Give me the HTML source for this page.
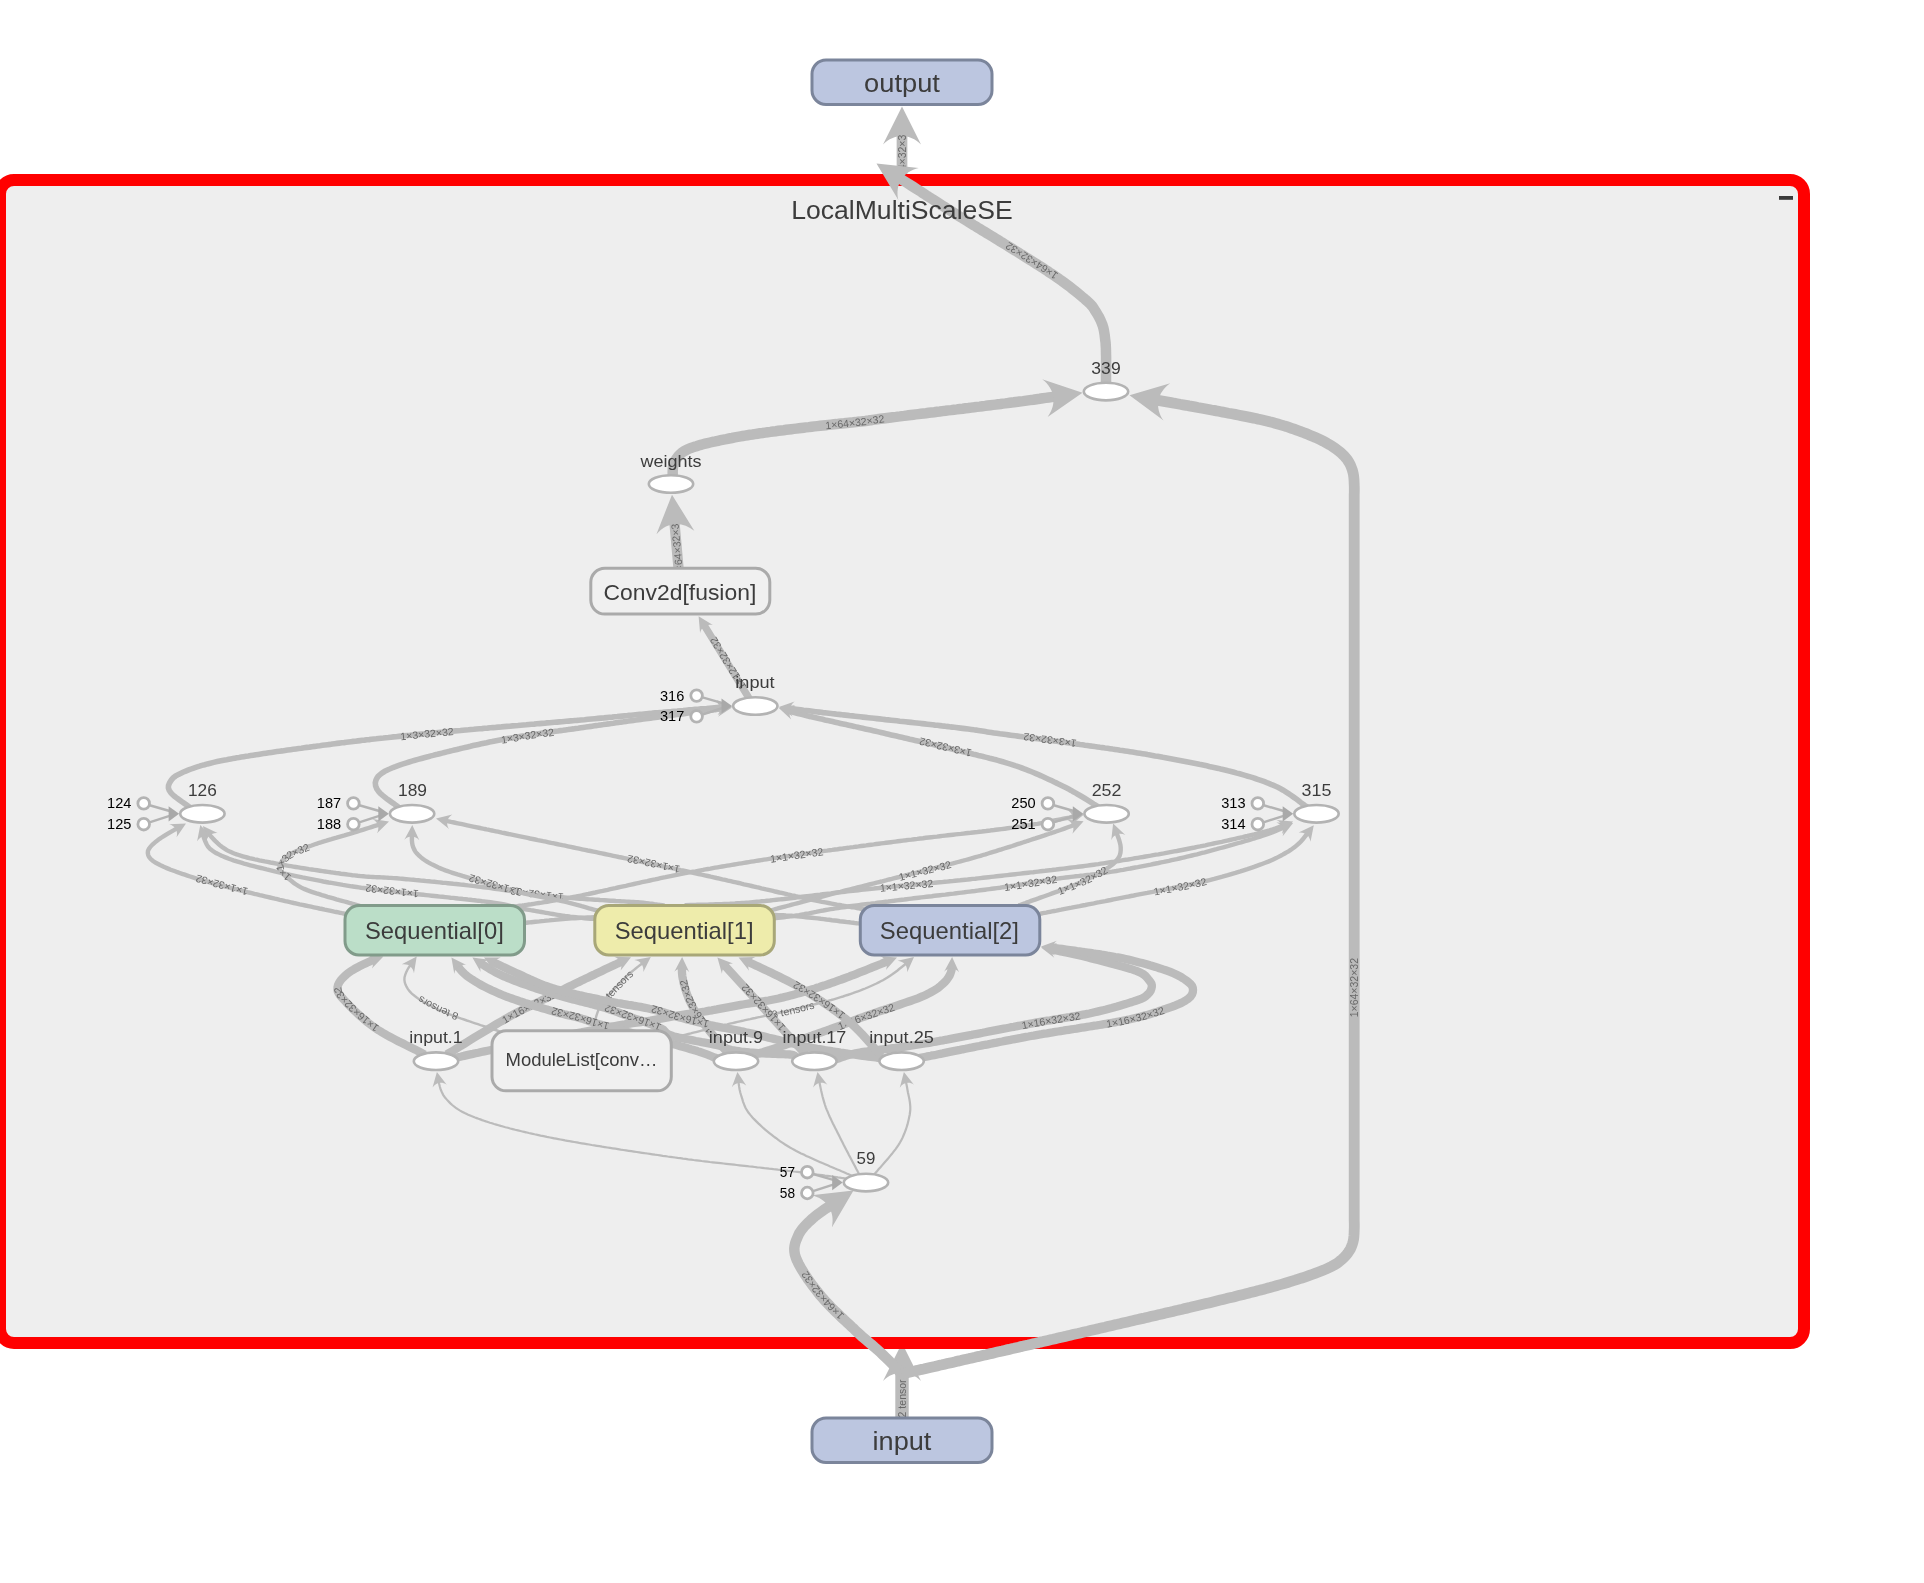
<!DOCTYPE html>
<html><head><meta charset="utf-8"><title>graph</title>
<style>
html,body{margin:0;padding:0;background:#ffffff;}
body{width:1924px;height:1583px;overflow:hidden;}
svg{display:block;font-family:"Liberation Sans", sans-serif;will-change:transform;}
</style></head><body>
<svg width="1924" height="1583" viewBox="0 0 1924 1583">
<rect x="0" y="0" width="1924" height="1583" fill="#ffffff"/>
<g>
<path id="e5" d="M902.0,186.0L902.0,133.9" stroke="#bbbbbb" stroke-width="10.70" fill="none"/>
<path d="M-10,-5 L0,0 L-10,5 C-7,2 -7,-2 -10,-5Z" fill="#bbbbbb" transform="translate(902.0,106.5) rotate(-90.0) scale(3.800)"/>
<text font-size="10.5" fill="#686868" text-anchor="middle" dominant-baseline="central"><textPath href="#e5" startOffset="52.74%">1×64×32×32</textPath></text>
<path id="e7" d="M902.0,1424.0L902.0,1370.4" stroke="#bbbbbb" stroke-width="13.40" fill="none"/>
<path d="M-10,-5 L0,0 L-10,5 C-7,2 -7,-2 -10,-5Z" fill="#bbbbbb" transform="translate(902.0,1343.0) rotate(-90.0) scale(3.800)"/>
<text font-size="10.5" fill="#686868" text-anchor="middle" dominant-baseline="central"><textPath href="#e7" startOffset="47.73%">2 tensor</textPath></text>
</g>
<rect x="0" y="180" width="1804" height="1163" rx="14" ry="14" fill="#eeeeee" stroke="#ff0000" stroke-width="12"/>
<rect x="1779" y="196" width="14" height="3.8" fill="#3a3a3a"/>
<g>
<path id="e1" d="M851.0,1179.2L851.3,1179.2 852.0,1179.3 850.9,1179.2 846.0,1178.5 844.6,1178.3 843.0,1178.1 841.4,1177.9 839.7,1177.6 837.9,1177.4 836.0,1177.1 834.0,1176.8 831.9,1176.5 829.7,1176.2 827.3,1175.9 824.9,1175.6 822.3,1175.2 819.6,1174.8 816.9,1174.5 813.9,1174.1 810.9,1173.7 807.7,1173.2 804.5,1172.8 801.0,1172.4 797.5,1171.9 793.8,1171.5 790.0,1171.0 788.1,1170.8 786.2,1170.5 784.2,1170.3 782.2,1170.1 780.1,1169.8 778.0,1169.6 775.8,1169.3 773.6,1169.1 771.4,1168.8 769.1,1168.6 766.8,1168.3 764.5,1168.1 762.1,1167.8 759.7,1167.5 757.2,1167.3 754.8,1167.0 752.3,1166.7 749.7,1166.5 747.2,1166.2 744.6,1165.9 742.0,1165.6 739.4,1165.3 736.8,1165.0 734.2,1164.7 731.5,1164.4 728.8,1164.1 726.2,1163.8 723.5,1163.5 720.8,1163.2 718.1,1162.9 715.4,1162.6 712.6,1162.3 709.9,1162.0 707.2,1161.6 704.5,1161.3 701.8,1161.0 699.0,1160.6 696.3,1160.3 693.6,1160.0 690.9,1159.6 688.2,1159.3 685.6,1158.9 682.9,1158.6 680.3,1158.2 677.6,1157.9 675.0,1157.5 672.6,1157.2 670.1,1156.8 667.7,1156.5 665.2,1156.1 662.7,1155.8 660.1,1155.4 657.6,1155.0 655.0,1154.7 652.4,1154.3 649.8,1153.9 647.2,1153.5 644.6,1153.2 642.0,1152.8 639.3,1152.4 636.7,1152.0 634.0,1151.6 631.3,1151.2 628.7,1150.8 626.0,1150.4 623.3,1150.0 620.6,1149.6 618.0,1149.1 615.3,1148.7 612.7,1148.3 610.0,1147.9 607.4,1147.5 604.7,1147.1 602.1,1146.7 599.5,1146.2 596.9,1145.8 594.3,1145.4 591.7,1145.0 589.2,1144.5 586.6,1144.1 584.1,1143.7 581.7,1143.3 579.2,1142.9 576.8,1142.4 574.3,1142.0 572.0,1141.6 569.6,1141.2 567.3,1140.8 565.0,1140.4 562.7,1139.9 560.5,1139.5 558.3,1139.1 556.2,1138.7 554.1,1138.3 552.0,1137.9 550.0,1137.5 546.8,1136.9 543.7,1136.2 540.6,1135.6 537.5,1134.9 534.6,1134.3 531.7,1133.6 528.8,1133.0 526.0,1132.3 523.2,1131.7 520.5,1131.0 517.9,1130.4 515.3,1129.8 512.7,1129.1 510.2,1128.5 507.8,1127.8 505.4,1127.2 503.0,1126.5 500.7,1125.9 498.5,1125.2 496.3,1124.6 494.1,1124.0 492.0,1123.3 489.9,1122.7 487.9,1122.0 485.9,1121.4 484.0,1120.7 482.1,1120.1 480.3,1119.4 478.5,1118.8 476.7,1118.1 475.0,1117.5 471.4,1116.1 468.2,1114.7 465.2,1113.3 462.5,1111.9 460.1,1110.6 457.8,1109.2 455.8,1107.8 454.0,1106.5 452.2,1105.0 450.7,1103.6 449.2,1102.1 447.7,1100.6 446.4,1099.1 445.0,1097.5 443.3,1095.1 441.9,1092.3 440.7,1089.5 439.8,1086.5 439.1,1083.5 438.9,1082.3" stroke="#bbbbbb" stroke-width="2.20" fill="none"/>
<path d="M-10,-5 L0,0 L-10,5 C-7,2 -7,-2 -10,-5Z" fill="#bbbbbb" transform="translate(436.9,1072.0) rotate(-101.0) scale(1.450)"/>
<path id="e2" d="M852.5,1176.1L853.0,1176.3 853.9,1176.7 853.0,1176.3 848.0,1174.0 846.6,1173.4 845.1,1172.7 843.4,1172.0 841.5,1171.2 839.5,1170.3 837.3,1169.4 835.1,1168.5 832.7,1167.4 830.2,1166.4 827.7,1165.3 825.1,1164.2 822.4,1163.1 819.7,1161.9 817.0,1160.7 814.3,1159.5 811.6,1158.3 808.9,1157.1 806.3,1155.9 803.7,1154.6 801.1,1153.4 798.7,1152.2 796.3,1151.0 794.1,1149.8 792.0,1148.6 790.0,1147.5 787.5,1146.0 785.1,1144.5 782.7,1142.9 780.3,1141.3 778.0,1139.7 775.8,1138.0 773.6,1136.4 771.4,1134.7 769.4,1133.1 767.3,1131.4 765.4,1129.8 763.5,1128.2 761.7,1126.5 760.0,1124.9 758.3,1123.4 756.8,1121.9 755.3,1120.4 753.8,1118.9 752.5,1117.5 750.3,1114.9 748.4,1112.5 746.9,1110.2 745.6,1108.0 744.6,1105.8 743.8,1103.7 743.0,1101.6 742.4,1099.4 741.7,1097.2 741.0,1095.0 740.2,1092.3 739.6,1089.5 739.1,1086.5 738.7,1083.6 738.6,1082.4" stroke="#bbbbbb" stroke-width="2.20" fill="none"/>
<path d="M-10,-5 L0,0 L-10,5 C-7,2 -7,-2 -10,-5Z" fill="#bbbbbb" transform="translate(737.4,1072.0) rotate(-96.5) scale(1.450)"/>
<path id="e3" d="M861.1,1177.9L861.0,1177.9 861.1,1178.0 860.5,1176.9 858.8,1173.5 858.0,1172.1 857.2,1170.5 856.2,1168.7 855.1,1166.6 854.0,1164.5 852.8,1162.2 851.5,1159.7 850.2,1157.3 848.8,1154.7 847.5,1152.1 846.1,1149.6 844.8,1147.0 843.5,1144.5 842.3,1142.0 841.1,1139.7 840.0,1137.5 838.8,1135.1 837.6,1132.7 836.4,1130.3 835.2,1128.0 834.1,1125.7 832.9,1123.4 831.8,1121.1 830.7,1118.8 829.6,1116.5 828.6,1114.2 827.7,1111.9 826.7,1109.6 825.8,1107.3 825.0,1105.0 824.2,1102.4 823.4,1099.6 822.6,1096.7 821.9,1093.8 821.2,1090.8 820.6,1087.9 820.0,1085.1 819.5,1082.3 819.5,1082.2" stroke="#bbbbbb" stroke-width="2.20" fill="none"/>
<path d="M-10,-5 L0,0 L-10,5 C-7,2 -7,-2 -10,-5Z" fill="#bbbbbb" transform="translate(817.5,1072.0) rotate(-101.0) scale(1.450)"/>
<path id="e4" d="M871.9,1177.4L871.9,1177.3 871.9,1177.4 872.6,1176.5 875.0,1173.5 876.1,1172.2 877.4,1170.7 878.8,1169.0 880.5,1167.2 882.3,1165.1 884.1,1163.0 886.1,1160.8 888.1,1158.5 890.0,1156.1 892.0,1153.8 893.8,1151.4 895.6,1149.1 897.2,1146.8 898.7,1144.6 900.0,1142.5 901.4,1139.9 902.7,1137.4 903.8,1134.8 904.9,1132.1 905.9,1129.5 906.7,1127.0 907.5,1124.4 908.1,1121.9 908.7,1119.4 909.2,1117.1 909.7,1114.7 910.0,1112.5 910.3,1109.6 910.3,1106.9 910.1,1104.3 909.8,1101.7 909.4,1099.3 908.9,1096.9 908.4,1094.6 907.9,1092.3 907.5,1090.0 907.0,1087.0 906.4,1084.0 906.0,1082.2" stroke="#bbbbbb" stroke-width="2.20" fill="none"/>
<path d="M-10,-5 L0,0 L-10,5 C-7,2 -7,-2 -10,-5Z" fill="#bbbbbb" transform="translate(903.9,1072.0) rotate(-101.9) scale(1.450)"/>
<path id="e6" d="M1106.0,387.0L1106.0,386.7 1106.0,386.4 1106.0,385.1 1106.0,382.0 1106.0,380.3 1106.0,378.3 1106.0,375.9 1106.0,373.3 1106.1,370.5 1106.1,367.6 1106.1,364.6 1106.1,361.7 1106.1,359.0 1106.1,356.4 1106.0,354.0 1106.0,352.0 1105.9,348.2 1105.7,345.2 1105.6,342.8 1105.3,340.5 1105.0,338.0 1104.7,335.3 1104.3,332.7 1103.9,330.2 1103.3,327.6 1102.5,325.0 1101.5,322.4 1100.3,319.7 1099.0,317.1 1097.5,314.5 1096.0,312.0 1094.7,309.9 1093.6,308.1 1092.2,306.2 1090.2,304.0 1087.0,301.0 1085.6,299.8 1084.2,298.5 1082.6,297.2 1080.9,295.8 1079.1,294.3 1077.3,292.8 1075.3,291.2 1073.3,289.6 1071.2,287.9 1069.0,286.2 1066.7,284.5 1064.4,282.8 1062.0,281.0 1059.5,279.3 1057.0,277.5 1055.2,276.2 1053.3,274.9 1051.3,273.6 1049.3,272.3 1047.3,270.9 1045.2,269.6 1043.1,268.2 1040.9,266.8 1038.7,265.4 1036.5,264.0 1034.3,262.6 1032.0,261.1 1029.7,259.7 1027.4,258.3 1025.1,256.8 1022.7,255.3 1020.4,253.9 1018.1,252.4 1015.7,250.9 1013.3,249.5 1011.0,248.0 1008.9,246.7 1006.8,245.4 1004.7,244.1 1002.5,242.7 1000.3,241.4 998.1,240.0 995.9,238.7 993.6,237.3 991.4,235.9 989.1,234.6 986.9,233.2 984.6,231.8 982.3,230.4 980.1,229.0 977.8,227.7 975.6,226.3 973.3,225.0 971.1,223.6 969.0,222.3 966.8,220.9 964.7,219.6 962.6,218.3 960.5,217.1 958.5,215.8 956.1,214.3 953.8,212.8 951.4,211.4 949.1,209.9 946.9,208.5 944.6,207.0 942.4,205.6 940.2,204.2 938.0,202.8 935.9,201.4 933.7,200.0 931.6,198.7 929.5,197.3 927.4,196.0 925.3,194.6 923.2,193.3 921.2,191.9 919.1,190.6 917.1,189.3 915.0,188.0 912.7,186.5 910.3,185.0 907.8,183.4 905.4,181.9 902.9,180.3 900.4,178.7 899.6,178.2" stroke="#bbbbbb" stroke-width="10.50" fill="none"/>
<path d="M-10,-5 L0,0 L-10,5 C-7,2 -7,-2 -10,-5Z" fill="#bbbbbb" transform="translate(876.5,163.5) rotate(-147.5) scale(3.800)"/>
<text font-size="10.5" fill="#686868" text-anchor="middle" dominant-baseline="central"><textPath href="#e6" startOffset="50.61%">1×64×32×32</textPath></text>
<path id="e8" d="M902.0,1374.0L900.9,1372.9 899.5,1371.5 897.9,1369.8 896.1,1368.0 894.2,1366.0 892.1,1363.9 889.9,1361.7 887.7,1359.4 885.4,1357.2 883.2,1355.1 881.0,1353.0 879.2,1351.3 877.4,1349.7 875.5,1348.1 873.7,1346.5 871.8,1344.8 869.9,1343.2 867.9,1341.5 865.9,1339.8 863.8,1338.0 861.7,1336.2 859.5,1334.2 857.3,1332.2 855.0,1330.0 853.4,1328.4 851.6,1326.8 849.9,1325.2 848.0,1323.5 846.2,1321.7 844.2,1319.9 842.3,1318.1 840.3,1316.2 838.4,1314.3 836.4,1312.4 834.4,1310.5 832.5,1308.6 830.5,1306.6 828.7,1304.7 826.8,1302.7 825.0,1300.8 823.3,1298.8 821.6,1296.9 820.0,1295.0 818.3,1292.9 816.5,1290.6 814.8,1288.4 813.0,1286.1 811.3,1283.8 809.7,1281.5 808.0,1279.2 806.5,1276.8 804.9,1274.5 803.5,1272.3 802.1,1270.0 800.8,1267.8 799.6,1265.7 798.5,1263.7 797.6,1261.7 796.7,1259.8 796.0,1258.0 794.9,1254.5 794.4,1251.3 794.3,1248.4 794.6,1245.8 795.2,1243.2 796.0,1240.8 797.0,1238.4 798.0,1236.0 799.1,1233.6 800.5,1231.4 802.1,1229.2 803.8,1227.1 805.7,1225.0 807.7,1223.0 809.8,1221.0 812.0,1219.0 813.8,1217.4 815.7,1215.8 817.8,1214.2 819.9,1212.7 822.0,1211.2 824.2,1209.7 826.4,1208.2 828.7,1206.8 830.6,1205.5" stroke="#bbbbbb" stroke-width="10.50" fill="none"/>
<path d="M-10,-5 L0,0 L-10,5 C-7,2 -7,-2 -10,-5Z" fill="#bbbbbb" transform="translate(853.5,1190.6) rotate(-33.0) scale(3.800)"/>
<text font-size="10.5" fill="#686868" text-anchor="middle" dominant-baseline="central"><textPath href="#e8" startOffset="49.56%">1×64×32×32</textPath></text>
<path id="e9" d="M902.0,1374.0L902.3,1373.9 902.3,1373.9 905.1,1373.2 913.5,1371.3 915.0,1371.0 916.5,1370.6 918.2,1370.2 919.9,1369.8 921.8,1369.4 923.8,1369.0 925.8,1368.5 927.9,1368.0 930.1,1367.5 932.4,1367.0 934.7,1366.5 937.1,1365.9 939.5,1365.3 942.1,1364.8 944.6,1364.2 947.2,1363.6 949.9,1363.0 952.6,1362.4 955.3,1361.8 958.0,1361.1 960.8,1360.5 963.6,1359.8 966.4,1359.2 969.3,1358.6 972.1,1357.9 975.0,1357.3 977.8,1356.6 980.6,1356.0 983.5,1355.3 986.3,1354.7 989.1,1354.0 991.9,1353.4 994.6,1352.7 997.3,1352.1 1000.0,1351.5 1002.3,1351.0 1004.6,1350.4 1006.9,1349.9 1009.2,1349.4 1011.6,1348.8 1013.9,1348.3 1016.3,1347.7 1018.7,1347.2 1021.0,1346.6 1023.4,1346.1 1025.9,1345.5 1028.3,1345.0 1030.7,1344.4 1033.1,1343.8 1035.6,1343.3 1038.0,1342.7 1040.5,1342.1 1043.0,1341.6 1045.4,1341.0 1047.9,1340.4 1050.4,1339.8 1052.9,1339.3 1055.4,1338.7 1057.9,1338.1 1060.3,1337.5 1062.8,1336.9 1065.3,1336.4 1067.8,1335.8 1070.3,1335.2 1072.8,1334.6 1075.3,1334.0 1077.8,1333.5 1080.3,1332.9 1082.8,1332.3 1085.2,1331.7 1087.7,1331.2 1090.2,1330.6 1092.6,1330.0 1095.1,1329.4 1097.6,1328.9 1100.0,1328.3 1102.4,1327.7 1104.9,1327.2 1107.4,1326.6 1109.9,1326.0 1112.4,1325.4 1114.9,1324.8 1117.4,1324.3 1120.0,1323.7 1122.5,1323.1 1125.1,1322.5 1127.6,1321.9 1130.2,1321.3 1132.7,1320.7 1135.3,1320.1 1137.9,1319.5 1140.4,1318.9 1143.0,1318.4 1145.5,1317.8 1148.1,1317.2 1150.6,1316.6 1153.1,1316.0 1155.7,1315.4 1158.2,1314.8 1160.7,1314.3 1163.2,1313.7 1165.6,1313.1 1168.1,1312.5 1170.5,1312.0 1172.9,1311.4 1175.3,1310.8 1177.7,1310.3 1180.1,1309.7 1182.4,1309.2 1184.7,1308.6 1187.0,1308.1 1189.2,1307.6 1191.4,1307.0 1193.6,1306.5 1195.8,1306.0 1197.9,1305.5 1200.0,1305.0 1203.0,1304.3 1206.0,1303.6 1208.9,1302.9 1211.8,1302.2 1214.7,1301.5 1217.5,1300.8 1220.3,1300.1 1223.0,1299.4 1225.7,1298.8 1228.4,1298.1 1231.0,1297.5 1233.6,1296.9 1236.1,1296.2 1238.6,1295.6 1241.1,1295.0 1243.5,1294.4 1245.9,1293.8 1248.3,1293.2 1250.6,1292.6 1252.9,1292.0 1255.2,1291.4 1257.4,1290.8 1259.6,1290.3 1261.7,1289.7 1263.8,1289.2 1265.9,1288.6 1268.0,1288.0 1270.0,1287.5 1273.2,1286.6 1276.3,1285.7 1279.3,1284.9 1282.2,1284.1 1285.0,1283.3 1287.7,1282.5 1290.2,1281.7 1292.7,1280.9 1295.1,1280.2 1297.5,1279.4 1299.7,1278.7 1301.9,1278.0 1304.0,1277.3 1306.1,1276.6 1308.1,1275.9 1310.1,1275.2 1312.0,1274.5 1315.1,1273.4 1318.0,1272.3 1320.6,1271.3 1323.1,1270.3 1325.3,1269.4 1327.5,1268.4 1329.5,1267.5 1331.4,1266.5 1333.2,1265.5 1335.0,1264.5 1337.8,1262.7 1340.2,1260.9 1342.3,1259.1 1344.2,1257.2 1345.9,1255.4 1347.5,1253.5 1349.1,1251.2 1350.4,1249.0 1351.4,1246.7 1352.3,1244.3 1353.0,1242.0 1353.6,1239.1 1353.9,1236.2 1354.1,1233.2 1354.2,1230.0 1354.3,1227.8 1354.3,1225.6 1354.3,1223.3 1354.2,1220.9 1354.2,1218.1 1354.2,1215.0 1354.2,1213.0 1354.2,1210.9 1354.2,1208.7 1354.2,1206.4 1354.2,1204.1 1354.2,1201.6 1354.2,1198.9 1354.2,1196.1 1354.2,1193.2 1354.2,1190.0 1354.2,1188.9 1354.2,1189.5 1354.2,1191.3 1354.2,1193.9 1354.2,1197.1 1354.2,1200.3 1354.2,1203.1 1354.2,1205.3 1354.2,1206.4 1354.2,1205.9 1354.2,1203.6 1354.2,1199.0 1354.2,1191.8 1354.2,1181.4 1354.2,1167.6 1354.2,1150.0 1354.2,1148.7 1354.2,1147.3 1354.2,1145.9 1354.2,1144.4 1354.2,1143.0 1354.2,1141.5 1354.2,1139.9 1354.2,1138.4 1354.2,1136.8 1354.2,1135.2 1354.2,1133.6 1354.2,1131.9 1354.2,1130.2 1354.2,1128.5 1354.2,1126.8 1354.2,1125.0 1354.2,1123.2 1354.2,1121.4 1354.2,1119.6 1354.2,1117.7 1354.2,1115.8 1354.2,1113.9 1354.2,1112.0 1354.2,1110.0 1354.2,1108.0 1354.2,1106.0 1354.2,1104.0 1354.2,1101.9 1354.2,1099.9 1354.2,1097.8 1354.2,1095.6 1354.2,1093.5 1354.2,1091.3 1354.2,1089.1 1354.2,1086.9 1354.2,1084.7 1354.2,1082.5 1354.2,1080.2 1354.2,1077.9 1354.2,1075.6 1354.2,1073.3 1354.2,1070.9 1354.2,1068.5 1354.2,1066.2 1354.2,1063.8 1354.2,1061.3 1354.2,1058.9 1354.2,1056.4 1354.2,1054.0 1354.2,1051.5 1354.2,1049.0 1354.2,1046.4 1354.2,1043.9 1354.2,1041.3 1354.2,1038.7 1354.2,1036.2 1354.2,1033.5 1354.2,1030.9 1354.2,1028.3 1354.2,1025.6 1354.2,1023.0 1354.2,1020.3 1354.2,1017.6 1354.2,1014.9 1354.2,1012.1 1354.2,1009.4 1354.2,1006.7 1354.2,1003.9 1354.2,1001.1 1354.2,998.3 1354.2,995.5 1354.2,992.7 1354.2,989.9 1354.2,987.1 1354.2,984.2 1354.2,981.4 1354.2,978.5 1354.2,975.6 1354.2,972.7 1354.2,969.8 1354.2,966.9 1354.2,964.0 1354.2,961.1 1354.2,958.2 1354.2,955.2 1354.2,952.3 1354.2,949.3 1354.2,946.3 1354.2,943.4 1354.2,940.4 1354.2,937.4 1354.2,934.4 1354.2,931.4 1354.2,928.4 1354.2,925.4 1354.2,922.4 1354.2,919.3 1354.2,916.3 1354.2,913.3 1354.2,910.2 1354.2,907.2 1354.2,904.2 1354.2,901.1 1354.2,898.0 1354.2,895.0 1354.2,891.9 1354.2,888.9 1354.2,885.8 1354.2,882.7 1354.2,879.6 1354.2,876.6 1354.2,873.5 1354.2,870.4 1354.2,867.3 1354.2,864.2 1354.2,861.2 1354.2,858.1 1354.2,855.0 1354.2,851.9 1354.2,848.8 1354.2,845.8 1354.2,842.7 1354.2,839.6 1354.2,836.5 1354.2,833.4 1354.2,830.4 1354.2,827.3 1354.2,824.2 1354.2,821.1 1354.2,818.1 1354.2,815.0 1354.2,812.0 1354.2,808.9 1354.2,805.8 1354.2,802.8 1354.2,799.8 1354.2,796.7 1354.2,793.7 1354.2,790.7 1354.2,787.6 1354.2,784.6 1354.2,781.6 1354.2,778.6 1354.2,775.6 1354.2,772.6 1354.2,769.6 1354.2,766.6 1354.2,763.7 1354.2,760.7 1354.2,757.7 1354.2,754.8 1354.2,751.8 1354.2,748.9 1354.2,746.0 1354.2,743.1 1354.2,740.2 1354.2,737.3 1354.2,734.4 1354.2,731.5 1354.2,728.6 1354.2,725.8 1354.2,722.9 1354.2,720.1 1354.2,717.3 1354.2,714.5 1354.2,711.7 1354.2,708.9 1354.2,706.1 1354.2,703.3 1354.2,700.6 1354.2,697.9 1354.2,695.1 1354.2,692.4 1354.2,689.7 1354.2,687.0 1354.2,684.4 1354.2,681.7 1354.2,679.1 1354.2,676.5 1354.2,673.8 1354.2,671.3 1354.2,668.7 1354.2,666.1 1354.2,663.6 1354.2,661.0 1354.2,658.5 1354.2,656.0 1354.2,653.6 1354.2,651.1 1354.2,648.7 1354.2,646.2 1354.2,643.8 1354.2,641.5 1354.2,639.1 1354.2,636.7 1354.2,634.4 1354.2,632.1 1354.2,629.8 1354.2,627.5 1354.2,625.3 1354.2,623.1 1354.2,620.9 1354.2,618.7 1354.2,616.5 1354.2,614.4 1354.2,612.2 1354.2,610.1 1354.2,608.1 1354.2,606.0 1354.2,604.0 1354.2,602.0 1354.2,600.0 1354.2,598.0 1354.2,596.1 1354.2,594.2 1354.2,592.3 1354.2,590.4 1354.2,588.6 1354.2,586.8 1354.2,585.0 1354.2,583.2 1354.2,581.5 1354.2,579.8 1354.2,578.1 1354.2,576.4 1354.2,574.8 1354.2,573.2 1354.2,571.6 1354.2,570.1 1354.2,568.5 1354.2,567.0 1354.2,565.6 1354.2,564.1 1354.2,562.7 1354.2,561.3 1354.2,560.0 1354.2,542.4 1354.2,528.5 1354.2,518.2 1354.2,510.9 1354.2,506.2 1354.2,503.8 1354.2,503.4 1354.2,504.4 1354.2,506.5 1354.2,509.4 1354.2,512.6 1354.2,515.7 1354.2,518.4 1354.2,520.3 1354.2,520.9 1354.2,520.0 1354.2,516.5 1354.2,513.5 1354.2,510.8 1354.2,508.4 1354.2,506.3 1354.2,504.2 1354.2,502.1 1354.2,500.0 1354.2,497.2 1354.2,494.5 1354.3,492.0 1354.3,489.6 1354.3,487.3 1354.2,485.0 1354.1,482.3 1354.0,479.8 1353.8,477.4 1353.5,475.0 1353.0,472.5 1352.3,470.0 1351.4,467.5 1350.4,464.9 1349.1,462.5 1347.5,460.0 1345.9,458.0 1344.2,456.0 1342.3,454.1 1340.2,452.1 1337.7,450.2 1335.0,448.2 1333.2,447.0 1331.4,445.8 1329.5,444.6 1327.4,443.5 1325.3,442.3 1323.1,441.1 1320.7,439.9 1318.1,438.7 1315.4,437.4 1312.5,436.2 1310.5,435.4 1308.3,434.5 1306.2,433.6 1303.9,432.7 1301.6,431.9 1299.2,431.0 1296.7,430.1 1294.2,429.2 1291.6,428.3 1289.0,427.4 1286.3,426.5 1283.5,425.7 1280.7,424.8 1277.9,424.0 1275.0,423.2 1272.8,422.6 1270.7,422.1 1268.6,421.5 1266.5,421.0 1264.4,420.5 1262.4,420.0 1260.2,419.5 1258.1,419.1 1255.9,418.6 1253.6,418.1 1251.3,417.6 1248.9,417.1 1246.4,416.6 1243.7,416.1 1241.0,415.6 1238.1,415.0 1235.1,414.4 1231.9,413.8 1228.5,413.2 1225.0,412.5 1223.0,412.1 1220.9,411.7 1218.7,411.3 1216.4,410.9 1214.0,410.4 1211.5,410.0 1208.9,409.5 1206.2,409.0 1203.5,408.5 1200.7,408.0 1197.8,407.5 1194.9,406.9 1192.0,406.4 1189.1,405.9 1186.1,405.3 1183.1,404.8 1180.1,404.3 1177.1,403.7 1174.1,403.2 1171.2,402.6 1168.2,402.1 1165.3,401.6 1162.4,401.1 1159.6,400.6 1156.9,400.1 1156.4,400.0" stroke="#bbbbbb" stroke-width="10.80" fill="none"/>
<path d="M-10,-5 L0,0 L-10,5 C-7,2 -7,-2 -10,-5Z" fill="#bbbbbb" transform="translate(1129.5,395.2) rotate(-169.9) scale(3.800)"/>
<text font-size="10.5" fill="#686868" text-anchor="middle" dominant-baseline="central"><textPath href="#e9" startOffset="49.96%">1×64×32×32</textPath></text>
<path id="e10" d="M671.7,480.9L671.8,480.3 671.9,479.4 672.2,478.1 672.5,476.0 672.7,474.1 672.7,471.7 672.8,469.0 673.1,466.2 673.8,463.5 675.0,461.0 676.1,459.3 677.3,457.6 678.5,455.9 680.1,454.3 681.9,452.7 684.3,451.1 687.3,449.5 691.0,448.0 692.7,447.4 694.5,446.8 696.5,446.2 698.5,445.5 700.7,444.9 702.9,444.3 705.2,443.7 707.7,443.1 710.2,442.5 712.7,441.9 715.3,441.4 718.0,440.8 720.7,440.2 723.5,439.6 726.3,439.1 729.1,438.5 732.0,438.0 734.8,437.4 737.7,436.9 740.6,436.4 742.8,436.0 745.1,435.6 747.5,435.2 749.9,434.8 752.4,434.5 754.8,434.1 757.4,433.7 759.9,433.3 762.5,433.0 765.1,432.6 767.7,432.2 770.4,431.9 773.0,431.5 775.7,431.2 778.3,430.8 781.0,430.5 783.6,430.2 786.2,429.8 788.8,429.5 791.4,429.2 793.9,428.9 796.4,428.6 798.9,428.3 801.3,428.0 803.7,427.7 806.0,427.4 808.8,427.1 811.7,426.7 814.5,426.4 817.3,426.1 820.1,425.8 822.9,425.5 825.7,425.2 828.4,424.9 831.1,424.6 833.8,424.3 836.5,424.1 839.1,423.8 841.6,423.5 844.1,423.3 846.6,423.0 849.0,422.8 851.3,422.6 853.6,422.3 855.8,422.1 857.9,421.8 860.0,421.6 863.1,421.2 865.4,421.0 867.2,420.7 868.6,420.5 869.8,420.3 871.1,420.2 872.6,419.9 874.6,419.6 877.2,419.3 880.7,418.8 885.2,418.2 891.0,417.5 892.6,417.3 894.3,417.1 896.1,416.9 898.0,416.6 899.9,416.4 902.0,416.1 904.1,415.9 906.3,415.6 908.6,415.3 910.9,415.0 913.3,414.7 915.7,414.4 918.2,414.1 920.8,413.8 923.4,413.5 926.0,413.2 928.7,412.8 931.4,412.5 934.2,412.2 937.0,411.8 939.8,411.5 942.6,411.1 945.4,410.8 948.3,410.4 951.2,410.1 954.0,409.7 956.9,409.4 959.8,409.0 962.7,408.7 965.6,408.3 968.4,408.0 971.3,407.6 974.1,407.3 976.9,406.9 979.7,406.6 982.4,406.2 985.1,405.9 987.8,405.5 990.5,405.2 993.1,404.9 995.6,404.6 998.1,404.3 1000.5,404.0 1002.9,403.6 1005.3,403.4 1007.5,403.1 1009.7,402.8 1011.8,402.5 1013.8,402.3 1015.8,402.0 1019.4,401.5 1023.0,401.1 1026.5,400.6 1029.9,400.1 1033.3,399.7 1036.5,399.2 1039.7,398.8 1042.8,398.3 1045.8,397.9 1048.7,397.5 1051.6,397.1 1054.3,396.7 1055.4,396.6" stroke="#bbbbbb" stroke-width="10.50" fill="none"/>
<path d="M-10,-5 L0,0 L-10,5 C-7,2 -7,-2 -10,-5Z" fill="#bbbbbb" transform="translate(1082.5,392.7) rotate(-8.2) scale(3.800)"/>
<text font-size="10.5" fill="#686868" text-anchor="middle" dominant-baseline="central"><textPath href="#e10" startOffset="50.66%">1×64×32×32</textPath></text>
<path id="e11" d="M678.9,573.0L678.5,568.0 674.4,522.0" stroke="#bbbbbb" stroke-width="10.30" fill="none"/>
<path d="M-10,-5 L0,0 L-10,5 C-7,2 -7,-2 -10,-5Z" fill="#bbbbbb" transform="translate(672.0,494.7) rotate(-95.1) scale(3.800)"/>
<text font-size="10.5" fill="#686868" text-anchor="middle" dominant-baseline="central"><textPath href="#e11" startOffset="50%">1×64×32×32</textPath></text>
<path id="e12" d="M751.1,701.6L748.5,697.3 704.3,625.4" stroke="#bbbbbb" stroke-width="7.30" fill="none"/>
<path d="M-10,-5 L0,0 L-10,5 C-7,2 -7,-2 -10,-5Z" fill="#bbbbbb" transform="translate(698.6,616.2) rotate(-121.6) scale(1.500)"/>
<text font-size="10.5" fill="#686868" text-anchor="middle" dominant-baseline="central"><textPath href="#e12" startOffset="50%">1×12×32×32</textPath></text>
<path id="e13" d="M192.0,809.0L191.6,808.7 191.0,808.3 190.0,807.5 188.0,806.0 186.4,804.8 184.3,803.4 181.9,801.7 179.3,799.9 176.8,798.1 174.5,796.3 172.5,794.5 171.0,793.0 169.2,790.3 168.4,787.8 168.5,785.5 169.5,783.0 170.5,781.3 171.7,779.6 173.2,777.9 175.4,776.2 178.5,774.4 182.5,772.5 184.1,771.8 185.8,771.1 187.5,770.4 189.3,769.7 191.1,769.0 193.0,768.3 195.0,767.6 197.2,766.9 199.5,766.2 201.9,765.4 204.6,764.7 207.4,763.9 210.4,763.2 213.7,762.4 217.2,761.6 221.0,760.8 225.0,760.0 226.8,759.7 228.7,759.3 230.7,758.9 232.7,758.6 234.7,758.2 236.9,757.8 239.1,757.5 241.3,757.1 243.6,756.7 246.0,756.3 248.3,756.0 250.8,755.6 253.2,755.2 255.7,754.8 258.3,754.4 260.9,754.0 263.5,753.6 266.1,753.2 268.7,752.8 271.4,752.4 274.1,752.0 276.8,751.6 279.5,751.2 282.2,750.9 285.0,750.5 287.7,750.1 290.5,749.7 293.2,749.3 295.9,748.9 298.7,748.5 301.4,748.2 304.1,747.8 306.8,747.4 309.5,747.1 312.1,746.7 314.7,746.4 317.4,746.0 319.9,745.7 322.5,745.3 325.0,745.0 327.5,744.7 329.9,744.4 332.4,744.0 334.7,743.7 337.1,743.4 339.5,743.1 341.8,742.8 344.1,742.6 346.4,742.3 348.7,742.0 351.0,741.7 353.2,741.4 355.5,741.2 357.8,740.9 360.1,740.6 362.3,740.3 364.6,740.1 366.9,739.8 369.2,739.6 371.5,739.3 373.9,739.0 376.2,738.8 378.6,738.5 381.0,738.2 383.4,738.0 385.9,737.7 388.4,737.5 390.9,737.2 393.5,736.9 396.1,736.7 398.7,736.4 401.4,736.1 404.2,735.8 407.0,735.5 409.8,735.3 412.7,735.0 415.7,734.7 418.7,734.4 421.8,734.1 425.0,733.8 427.1,733.5 429.2,733.3 431.4,733.1 433.6,732.9 435.9,732.7 438.2,732.5 440.5,732.3 442.9,732.1 445.3,731.8 447.8,731.6 450.3,731.4 452.8,731.2 455.3,730.9 457.9,730.7 460.5,730.5 463.1,730.2 465.8,730.0 468.4,729.8 471.1,729.5 473.8,729.3 476.5,729.0 479.3,728.8 482.0,728.6 484.7,728.3 487.5,728.1 490.3,727.8 493.1,727.6 495.8,727.4 498.6,727.1 501.4,726.9 504.2,726.6 506.9,726.4 509.7,726.2 512.5,725.9 515.2,725.7 518.0,725.5 520.7,725.2 523.5,725.0 526.2,724.8 528.9,724.5 531.5,724.3 534.2,724.1 536.8,723.8 539.5,723.6 542.0,723.4 544.6,723.2 547.1,722.9 549.7,722.7 552.1,722.5 554.6,722.3 557.0,722.1 559.4,721.9 561.7,721.7 564.0,721.5 566.2,721.3 568.5,721.1 570.6,720.9 572.8,720.7 574.8,720.5 576.9,720.4 578.8,720.2 580.8,720.0 584.5,719.7 588.0,719.3 591.5,719.0 594.8,718.7 598.0,718.4 601.0,718.1 604.0,717.9 606.8,717.6 609.6,717.3 612.2,717.1 614.8,716.8 617.3,716.6 619.8,716.3 622.1,716.1 624.5,715.9 626.7,715.7 629.0,715.4 631.2,715.2 633.4,715.0 635.5,714.8 637.7,714.6 639.8,714.4 642.0,714.2 644.1,714.0 646.3,713.8 648.5,713.6 650.7,713.4 652.9,713.1 655.2,712.9 657.6,712.7 660.0,712.5 662.7,712.3 665.5,712.0 668.4,711.7 671.3,711.5 674.2,711.2 677.2,711.0 680.2,710.7 683.2,710.5 686.2,710.2 689.2,709.9 692.2,709.7 695.1,709.4 698.1,709.2 701.0,708.9 703.8,708.7 706.6,708.5 709.3,708.2 711.9,708.0 714.4,707.8 716.9,707.6 719.2,707.4 721.2,707.2" stroke="#bbbbbb" stroke-width="5.60" fill="none"/>
<path d="M-10,-5 L0,0 L-10,5 C-7,2 -7,-2 -10,-5Z" fill="#bbbbbb" transform="translate(732.0,706.3) rotate(-4.8) scale(1.500)"/>
<text font-size="10.5" fill="#686868" text-anchor="middle" dominant-baseline="central"><textPath href="#e13" startOffset="50.59%">1×3×32×32</textPath></text>
<path id="e14" d="M400.9,809.1L400.6,808.8 400.1,808.4 399.1,807.6 397.0,806.0 395.5,804.9 393.7,803.6 391.5,802.1 389.1,800.4 386.7,798.7 384.4,796.9 382.3,795.2 380.4,793.5 379.0,792.0 376.8,788.8 375.6,785.8 375.3,782.8 376.0,780.0 376.9,778.2 378.1,776.4 379.8,774.8 382.0,773.1 384.8,771.3 388.5,769.5 390.2,768.8 391.9,768.0 393.6,767.3 395.5,766.6 397.5,765.8 399.5,765.1 401.7,764.3 404.0,763.6 406.5,762.8 409.1,762.0 411.9,761.1 414.9,760.3 418.0,759.4 421.4,758.5 425.0,757.5 426.9,757.0 428.9,756.5 430.9,755.9 433.0,755.4 435.2,754.8 437.4,754.3 439.7,753.7 442.1,753.1 444.5,752.5 446.9,751.9 449.4,751.3 452.0,750.6 454.5,750.0 457.1,749.4 459.7,748.8 462.4,748.1 465.1,747.5 467.7,746.9 470.4,746.3 473.1,745.6 475.9,745.0 478.6,744.4 481.3,743.8 484.0,743.2 486.7,742.7 489.4,742.1 492.1,741.6 494.8,741.0 497.4,740.5 500.0,740.0 502.4,739.5 504.9,739.1 507.4,738.6 509.8,738.2 512.3,737.8 514.8,737.4 517.3,737.0 519.8,736.5 522.3,736.1 524.9,735.8 527.4,735.4 529.9,735.0 532.5,734.6 535.0,734.2 537.6,733.9 540.1,733.5 542.7,733.1 545.2,732.8 547.8,732.4 550.3,732.1 552.9,731.7 555.4,731.3 558.0,731.0 560.5,730.6 563.1,730.3 565.6,729.9 568.2,729.6 570.7,729.2 573.2,728.9 575.7,728.5 578.2,728.2 580.8,727.8 583.3,727.4 585.8,727.1 588.3,726.7 590.8,726.4 593.3,726.0 595.8,725.6 598.3,725.3 600.8,724.9 603.4,724.6 605.9,724.2 608.4,723.9 610.9,723.5 613.4,723.2 615.9,722.8 618.4,722.5 620.9,722.1 623.4,721.8 625.9,721.4 628.4,721.1 630.9,720.7 633.4,720.4 635.8,720.1 638.3,719.7 640.7,719.4 643.2,719.1 645.6,718.7 648.0,718.4 650.5,718.1 652.9,717.8 655.2,717.4 657.6,717.1 660.0,716.8 662.6,716.4 665.3,716.1 668.1,715.7 670.9,715.4 673.7,715.0 676.6,714.6 679.5,714.2 682.4,713.9 685.3,713.5 688.2,713.1 691.1,712.7 693.9,712.4 696.8,712.0 699.6,711.6 702.3,711.3 705.0,710.9 707.7,710.6 710.3,710.3 712.8,710.0 715.2,709.6 717.5,709.3 719.8,709.1 721.3,708.9" stroke="#bbbbbb" stroke-width="5.60" fill="none"/>
<path d="M-10,-5 L0,0 L-10,5 C-7,2 -7,-2 -10,-5Z" fill="#bbbbbb" transform="translate(732.0,707.5) rotate(-7.3) scale(1.500)"/>
<text font-size="10.5" fill="#686868" text-anchor="middle" dominant-baseline="central"><textPath href="#e14" startOffset="50.65%">1×3×32×32</textPath></text>
<path id="e15" d="M1100.2,808.1L1099.8,807.8 1099.1,807.4 1098.0,806.7 1096.0,805.5 1094.3,804.5 1092.3,803.2 1090.0,801.7 1087.6,800.1 1085.0,798.5 1082.5,797.0 1080.0,795.5 1077.7,794.2 1075.5,792.9 1073.3,791.7 1071.1,790.4 1068.6,789.1 1065.7,787.6 1062.5,786.0 1060.5,785.0 1058.4,784.0 1056.2,782.9 1053.8,781.8 1051.4,780.6 1048.9,779.4 1046.3,778.2 1043.7,777.0 1041.1,775.8 1038.5,774.7 1036.0,773.6 1033.4,772.5 1031.0,771.5 1028.6,770.6 1026.3,769.7 1024.1,768.8 1021.9,768.0 1019.6,767.2 1017.4,766.4 1015.1,765.7 1012.8,764.9 1010.5,764.1 1008.0,763.4 1005.5,762.6 1002.8,761.8 1000.0,761.0 997.9,760.4 995.9,759.8 993.8,759.3 991.7,758.7 989.6,758.2 987.4,757.6 985.3,757.1 983.0,756.5 980.8,755.9 978.4,755.4 976.0,754.8 973.4,754.2 970.8,753.5 968.1,752.9 965.3,752.2 962.3,751.5 959.2,750.8 956.0,750.0 954.0,749.5 951.9,749.0 949.8,748.5 947.6,748.0 945.3,747.5 943.0,746.9 940.6,746.4 938.2,745.8 935.8,745.2 933.3,744.6 930.8,744.0 928.2,743.4 925.7,742.8 923.1,742.2 920.4,741.6 917.8,741.0 915.1,740.4 912.5,739.8 909.8,739.2 907.1,738.5 904.5,737.9 901.8,737.3 899.1,736.7 896.5,736.1 893.9,735.5 891.2,734.9 888.6,734.3 886.1,733.7 883.5,733.1 881.0,732.5 878.5,731.9 875.9,731.3 873.3,730.7 870.6,730.1 867.9,729.5 865.2,728.9 862.5,728.3 859.8,727.7 857.0,727.1 854.2,726.4 851.5,725.8 848.7,725.2 846.0,724.6 843.2,724.0 840.5,723.4 837.8,722.8 835.2,722.2 832.6,721.6 830.0,721.0 827.5,720.4 825.0,719.9 822.6,719.3 820.2,718.8 817.9,718.3 815.7,717.8 813.6,717.3 811.6,716.8 809.6,716.4 807.8,715.9 806.0,715.5 801.6,714.4 797.8,713.5 794.4,712.6 791.4,711.8 789.1,711.1" stroke="#bbbbbb" stroke-width="5.60" fill="none"/>
<path d="M-10,-5 L0,0 L-10,5 C-7,2 -7,-2 -10,-5Z" fill="#bbbbbb" transform="translate(778.8,708.1) rotate(-164.1) scale(1.500)"/>
<text font-size="10.5" fill="#686868" text-anchor="middle" dominant-baseline="central"><textPath href="#e15" startOffset="51.07%">1×3×32×32</textPath></text>
<path id="e16" d="M1309.2,808.2L1309.0,808.1 1309.0,808.1 1308.0,807.4 1305.0,805.5 1303.7,804.6 1302.2,803.6 1300.6,802.4 1298.9,801.0 1297.0,799.6 1295.0,798.1 1292.9,796.6 1290.6,795.0 1288.2,793.4 1285.8,791.8 1283.2,790.2 1280.6,788.7 1277.8,787.3 1275.0,786.0 1273.0,785.1 1270.9,784.3 1268.8,783.4 1266.7,782.6 1264.5,781.7 1262.3,780.9 1260.0,780.1 1257.6,779.3 1255.3,778.5 1252.8,777.7 1250.3,776.9 1247.8,776.2 1245.1,775.4 1242.5,774.6 1239.7,773.8 1236.9,773.1 1234.0,772.3 1231.1,771.5 1228.1,770.8 1225.0,770.0 1222.9,769.5 1220.7,769.0 1218.5,768.4 1216.3,767.9 1213.9,767.4 1211.6,766.9 1209.2,766.4 1206.8,765.8 1204.3,765.3 1201.9,764.8 1199.3,764.3 1196.8,763.7 1194.2,763.2 1191.7,762.7 1189.1,762.2 1186.5,761.7 1183.8,761.2 1181.2,760.7 1178.6,760.2 1175.9,759.7 1173.3,759.2 1170.7,758.7 1168.0,758.2 1165.4,757.7 1162.8,757.3 1160.2,756.8 1157.6,756.3 1155.1,755.9 1152.5,755.4 1150.0,755.0 1147.5,754.6 1145.0,754.1 1142.5,753.7 1140.0,753.3 1137.5,752.9 1135.0,752.5 1132.5,752.1 1130.0,751.7 1127.5,751.3 1125.0,750.9 1122.5,750.5 1120.0,750.2 1117.5,749.8 1115.0,749.4 1112.5,749.1 1110.0,748.7 1107.5,748.3 1105.0,748.0 1102.5,747.6 1100.0,747.3 1097.5,746.9 1095.0,746.6 1092.5,746.2 1090.0,745.9 1087.5,745.5 1085.0,745.2 1082.5,744.8 1080.0,744.5 1077.5,744.1 1075.0,743.8 1072.5,743.4 1069.9,743.0 1067.4,742.7 1064.8,742.3 1062.1,742.0 1059.5,741.6 1056.9,741.3 1054.2,740.9 1051.5,740.5 1048.9,740.2 1046.2,739.8 1043.5,739.5 1040.9,739.1 1038.2,738.8 1035.6,738.4 1032.9,738.1 1030.3,737.8 1027.8,737.4 1025.2,737.1 1022.7,736.8 1020.2,736.4 1017.8,736.1 1015.4,735.8 1013.0,735.5 1010.7,735.2 1008.4,734.9 1006.2,734.6 1004.1,734.3 1002.0,734.0 1000.0,733.8 996.7,733.3 993.9,732.9 991.4,732.5 989.2,732.2 987.3,731.9 985.4,731.6 983.7,731.3 982.0,731.0 980.2,730.7 978.3,730.4 976.3,730.1 973.9,729.8 971.3,729.4 968.2,729.0 964.7,728.6 960.6,728.1 956.0,727.5 954.3,727.3 952.4,727.1 950.5,726.9 948.5,726.6 946.5,726.4 944.3,726.1 942.1,725.9 939.8,725.6 937.4,725.3 935.0,725.1 932.5,724.8 930.0,724.5 927.4,724.2 924.8,723.9 922.2,723.6 919.5,723.3 916.7,723.0 914.0,722.7 911.2,722.4 908.3,722.1 905.5,721.8 902.6,721.5 899.8,721.2 896.9,720.8 894.0,720.5 891.1,720.2 888.2,719.9 885.4,719.6 882.5,719.2 879.6,718.9 876.8,718.6 874.0,718.3 871.2,718.0 868.4,717.7 865.7,717.4 863.0,717.1 860.3,716.8 857.7,716.5 855.2,716.2 852.6,715.9 850.2,715.7 847.8,715.4 845.4,715.1 843.1,714.9 840.9,714.6 838.8,714.4 836.7,714.2 834.7,713.9 832.8,713.7 831.0,713.5 826.9,713.0 823.0,712.6 819.3,712.1 815.7,711.7 812.4,711.3 809.3,710.9 806.3,710.5 803.5,710.2 800.8,709.8 798.3,709.5 795.9,709.2 793.7,708.9 791.6,708.7 789.6,708.4 789.5,708.4" stroke="#bbbbbb" stroke-width="5.60" fill="none"/>
<path d="M-10,-5 L0,0 L-10,5 C-7,2 -7,-2 -10,-5Z" fill="#bbbbbb" transform="translate(778.8,707.0) rotate(-172.5) scale(1.500)"/>
<text font-size="10.5" fill="#686868" text-anchor="middle" dominant-baseline="central"><textPath href="#e16" startOffset="50.81%">1×3×32×32</textPath></text>
<path id="e17" d="M349.9,914.8L350.4,915.0 351.5,915.2 350.6,915.0 345.0,913.8 343.6,913.5 342.0,913.2 340.2,912.8 338.4,912.4 336.4,912.0 334.2,911.6 332.0,911.1 329.7,910.6 327.2,910.1 324.7,909.6 322.1,909.0 319.4,908.5 316.7,907.9 313.9,907.3 311.1,906.7 308.3,906.1 305.4,905.5 302.5,904.9 299.6,904.3 296.7,903.6 293.8,903.0 290.9,902.3 288.0,901.7 285.2,901.1 282.4,900.4 279.7,899.8 277.3,899.2 274.9,898.7 272.5,898.1 270.0,897.5 267.4,896.9 264.9,896.3 262.3,895.7 259.7,895.1 257.0,894.4 254.4,893.8 251.7,893.1 249.0,892.5 246.4,891.8 243.7,891.2 241.0,890.5 238.4,889.9 235.7,889.2 233.1,888.5 230.5,887.9 228.0,887.2 225.4,886.6 223.0,885.9 220.5,885.3 218.1,884.7 215.7,884.0 213.4,883.4 211.2,882.8 209.0,882.2 206.9,881.6 204.9,881.0 201.8,880.1 198.8,879.2 195.8,878.3 192.9,877.4 190.1,876.5 187.4,875.6 184.8,874.7 182.2,873.9 179.7,873.0 177.4,872.2 175.1,871.3 172.9,870.5 170.7,869.7 168.7,868.9 166.8,868.1 164.9,867.3 163.2,866.5 161.6,865.7 160.0,865.0 155.8,862.8 152.7,860.7 150.5,858.8 149.0,856.9 148.2,855.0 147.8,853.0 148.0,850.9 148.9,848.9 150.4,846.8 152.5,844.6 155.0,842.4 158.0,840.0 159.6,838.8 161.6,837.5 163.8,836.1 166.2,834.6 168.7,833.1 171.3,831.6 173.9,830.2 176.5,828.7 176.6,828.7" stroke="#bbbbbb" stroke-width="4.40" fill="none"/>
<path d="M-10,-5 L0,0 L-10,5 C-7,2 -7,-2 -10,-5Z" fill="#bbbbbb" transform="translate(186.0,823.4) rotate(-29.3) scale(1.500)"/>
<text font-size="10.5" fill="#686868" text-anchor="middle" dominant-baseline="central"><textPath href="#e17" startOffset="52.5%">1×1×32×32</textPath></text>
<path id="e18" d="M507.1,907.8L506.6,907.9 505.7,908.0 506.7,907.9 512.0,907.0 513.4,906.8 515.0,906.5 516.7,906.3 518.4,906.0 520.3,905.7 522.3,905.5 524.4,905.2 526.6,904.8 528.9,904.5 531.2,904.2 533.7,903.8 536.3,903.4 538.9,903.0 541.7,902.6 544.5,902.1 547.4,901.7 550.5,901.2 553.5,900.7 556.7,900.1 559.9,899.5 563.2,898.9 566.6,898.3 570.1,897.7 573.6,897.0 575.6,896.6 577.6,896.2 579.7,895.8 581.8,895.4 583.9,894.9 586.2,894.4 588.4,894.0 590.7,893.5 593.0,893.0 595.4,892.5 597.8,891.9 600.2,891.4 602.7,890.9 605.2,890.3 607.7,889.8 610.3,889.2 612.8,888.6 615.4,888.1 618.0,887.5 620.6,886.9 623.3,886.3 625.9,885.8 628.6,885.2 631.2,884.6 633.9,884.0 636.6,883.4 639.2,882.8 641.9,882.2 644.6,881.6 647.2,881.1 649.9,880.5 652.5,879.9 655.1,879.4 657.8,878.8 660.4,878.2 662.9,877.7 665.5,877.2 668.0,876.6 670.6,876.1 673.0,875.6 675.5,875.1 677.9,874.6 680.3,874.2 682.7,873.7 685.3,873.2 687.9,872.7 690.5,872.2 693.1,871.7 695.6,871.3 698.1,870.8 700.6,870.3 703.0,869.9 705.5,869.4 707.9,869.0 710.4,868.6 712.8,868.1 715.2,867.7 717.6,867.3 719.9,866.9 722.3,866.5 724.7,866.1 727.1,865.7 729.5,865.3 731.9,864.9 734.3,864.5 736.6,864.1 739.0,863.7 741.5,863.3 743.9,862.9 746.3,862.5 748.8,862.1 751.2,861.7 753.7,861.3 756.2,860.9 758.8,860.5 761.3,860.1 763.9,859.7 766.5,859.3 769.1,858.9 771.8,858.5 774.5,858.1 777.2,857.7 780.0,857.3 782.3,857.0 784.6,856.6 786.9,856.3 789.3,855.9 791.7,855.6 794.1,855.2 796.5,854.9 799.0,854.5 801.5,854.2 804.0,853.8 806.5,853.5 809.0,853.1 811.6,852.7 814.1,852.4 816.7,852.0 819.3,851.7 821.9,851.3 824.5,850.9 827.1,850.6 829.7,850.2 832.3,849.9 835.0,849.5 837.6,849.2 840.2,848.8 842.8,848.5 845.5,848.1 848.1,847.8 850.7,847.4 853.3,847.1 855.9,846.7 858.5,846.4 861.1,846.0 863.7,845.7 866.2,845.4 868.8,845.0 871.3,844.7 873.8,844.4 876.3,844.0 878.8,843.7 881.2,843.4 883.7,843.1 886.1,842.8 888.5,842.5 890.8,842.2 893.2,841.9 895.5,841.6 897.8,841.3 900.0,841.0 902.9,840.6 905.8,840.3 908.7,839.9 911.5,839.6 914.4,839.2 917.3,838.9 920.1,838.5 923.0,838.2 925.8,837.8 928.6,837.5 931.4,837.2 934.2,836.9 937.0,836.6 939.7,836.2 942.4,835.9 945.1,835.6 947.8,835.3 950.5,835.0 953.1,834.7 955.7,834.4 958.2,834.1 960.8,833.9 963.3,833.6 965.7,833.3 968.2,833.0 970.6,832.8 972.9,832.5 975.2,832.2 977.5,832.0 979.7,831.7 981.9,831.5 984.1,831.2 986.1,831.0 988.2,830.7 990.2,830.5 992.1,830.2 994.0,830.0 997.9,829.5 1001.4,829.1 1004.7,828.7 1007.6,828.3 1010.4,827.9 1013.0,827.6 1015.4,827.2 1017.6,826.9 1019.8,826.6 1021.9,826.3 1024.0,826.0 1026.0,825.7 1028.1,825.3 1030.3,825.0 1032.6,824.6 1034.9,824.2 1037.5,823.8 1040.1,823.3 1042.8,822.8 1045.6,822.3 1048.5,821.7 1051.5,821.1 1054.5,820.5 1057.5,819.9 1060.5,819.3 1063.5,818.7 1066.4,818.1 1069.2,817.6 1071.8,817.0 1073.4,816.7" stroke="#bbbbbb" stroke-width="4.40" fill="none"/>
<path d="M-10,-5 L0,0 L-10,5 C-7,2 -7,-2 -10,-5Z" fill="#bbbbbb" transform="translate(1084.0,814.5) rotate(-11.7) scale(1.500)"/>
<text font-size="10.5" fill="#686868" text-anchor="middle" dominant-baseline="central"><textPath href="#e18" startOffset="51.54%">1×1×32×32</textPath></text>
<path id="e19" d="M520.0,923.2L519.4,923.2 518.2,923.3 519.2,923.3 525.0,922.8 526.4,922.7 528.0,922.5 529.6,922.4 531.4,922.2 533.3,922.0 535.3,921.8 537.4,921.6 539.5,921.4 541.8,921.1 544.2,920.9 546.6,920.6 549.1,920.4 551.7,920.1 554.4,919.9 557.2,919.6 560.0,919.3 562.8,919.1 565.7,918.9 568.7,918.6 571.7,918.4 574.8,918.2 577.9,918.0 581.0,917.8 584.2,917.7 587.4,917.5 590.6,917.4 593.8,917.3 595.9,917.2 598.1,917.2 600.3,917.2 602.6,917.1 604.9,917.1 607.3,917.1 609.7,917.1 612.1,917.1 614.6,917.1 617.2,917.1 619.7,917.1 622.3,917.1 624.9,917.1 627.6,917.1 630.2,917.1 632.9,917.1 635.6,917.2 638.3,917.2 641.0,917.2 643.7,917.3 646.5,917.3 649.2,917.3 651.9,917.4 654.7,917.4 657.4,917.5 660.1,917.5 662.8,917.5 665.5,917.6 668.1,917.6 670.8,917.7 673.4,917.7 676.0,917.7 678.6,917.8 681.1,917.8 683.6,917.9 686.1,917.9 688.5,917.9 690.9,917.9 693.3,918.0 695.6,918.0 697.8,918.0 700.0,918.0 703.0,918.0 706.0,918.0 708.9,918.1 711.7,918.1 714.5,918.2 717.3,918.2 720.0,918.3 722.7,918.3 725.3,918.4 728.0,918.4 730.5,918.5 733.1,918.5 735.6,918.6 738.1,918.6 740.5,918.7 743.0,918.7 745.4,918.7 747.8,918.8 750.2,918.8 752.5,918.8 754.9,918.8 757.2,918.7 759.5,918.7 761.8,918.7 764.1,918.6 766.4,918.5 768.7,918.4 771.0,918.3 773.3,918.2 775.6,918.0 778.3,917.8 781.0,917.5 783.7,917.3 786.3,916.9 788.9,916.6 791.5,916.2 794.0,915.9 796.6,915.5 799.1,915.1 801.5,914.6 804.0,914.2 806.4,913.7 808.9,913.3 811.3,912.8 813.7,912.3 816.1,911.9 818.5,911.4 820.9,910.9 823.3,910.5 825.8,910.0 828.2,909.6 830.6,909.2 833.1,908.8 835.5,908.4 838.0,908.0 840.5,907.6 842.9,907.3 845.3,907.0 847.6,906.6 849.9,906.3 852.2,906.0 854.5,905.7 856.8,905.4 859.0,905.1 861.3,904.8 863.6,904.5 865.9,904.2 868.2,903.9 870.5,903.7 872.9,903.4 875.3,903.1 877.8,902.7 880.3,902.4 882.9,902.1 885.6,901.8 888.3,901.5 891.1,901.1 894.0,900.8 896.9,900.4 900.0,900.0 902.1,899.7 904.3,899.5 906.6,899.2 908.9,898.9 911.3,898.6 913.7,898.3 916.2,898.0 918.7,897.7 921.3,897.4 923.8,897.1 926.5,896.8 929.1,896.5 931.8,896.2 934.5,895.8 937.2,895.5 939.9,895.2 942.6,894.9 945.4,894.6 948.1,894.2 950.9,893.9 953.6,893.6 956.3,893.2 959.1,892.9 961.8,892.6 964.4,892.3 967.1,891.9 969.8,891.6 972.4,891.3 974.9,891.0 977.5,890.6 980.0,890.3 982.5,890.0 984.9,889.7 987.2,889.4 989.6,889.1 991.8,888.8 994.0,888.5 997.0,888.1 1000.0,887.7 1003.0,887.2 1005.8,886.8 1008.7,886.4 1011.4,886.0 1014.2,885.6 1016.8,885.1 1019.5,884.7 1022.1,884.3 1024.6,883.9 1027.1,883.5 1029.6,883.1 1032.1,882.7 1034.5,882.3 1036.9,881.9 1039.3,881.5 1041.6,881.1 1044.0,880.8 1046.3,880.4 1048.6,880.0 1050.9,879.7 1053.2,879.3 1055.5,879.0 1057.7,878.6 1060.0,878.3 1062.9,877.9 1065.7,877.5 1068.3,877.2 1070.9,876.9 1073.4,876.6 1075.9,876.3 1078.3,876.1 1080.7,875.8 1083.1,875.6 1085.4,875.3 1087.8,875.0 1090.2,874.8 1092.7,874.5 1095.2,874.2 1097.7,873.9 1100.4,873.5 1103.1,873.1 1105.9,872.7 1108.9,872.2 1112.0,871.7 1114.1,871.3 1116.3,871.0 1118.6,870.6 1120.8,870.2 1123.2,869.8 1125.5,869.3 1127.9,868.9 1130.4,868.5 1132.8,868.0 1135.3,867.5 1137.8,867.1 1140.3,866.6 1142.9,866.1 1145.5,865.6 1148.1,865.1 1150.7,864.6 1153.3,864.0 1155.9,863.5 1158.5,863.0 1161.1,862.4 1163.8,861.9 1166.4,861.3 1169.0,860.8 1171.6,860.2 1174.2,859.6 1176.8,859.1 1179.4,858.5 1182.0,857.9 1184.5,857.3 1187.0,856.7 1189.4,856.1 1191.9,855.5 1194.4,854.9 1197.0,854.3 1199.6,853.6 1202.2,852.9 1204.8,852.3 1207.4,851.6 1210.1,850.9 1212.7,850.2 1215.4,849.5 1218.1,848.7 1220.7,848.0 1223.3,847.3 1225.9,846.6 1228.5,845.9 1231.1,845.1 1233.7,844.4 1236.2,843.7 1238.6,843.0 1241.1,842.3 1243.4,841.6 1245.8,840.9 1248.0,840.3 1250.3,839.6 1252.4,839.0 1254.5,838.3 1256.5,837.7 1258.4,837.1 1260.2,836.6 1262.0,836.0 1265.9,834.7 1269.5,833.4 1272.8,832.2 1275.8,831.0 1278.5,829.8 1281.0,828.7 1283.3,827.7" stroke="#bbbbbb" stroke-width="4.40" fill="none"/>
<path d="M-10,-5 L0,0 L-10,5 C-7,2 -7,-2 -10,-5Z" fill="#bbbbbb" transform="translate(1293.1,823.1) rotate(-24.9) scale(1.500)"/>
<text font-size="10.5" fill="#686868" text-anchor="middle" dominant-baseline="central"><textPath href="#e19" startOffset="66.58%">1×1×32×32</textPath></text>
<path id="e20" d="M665.0,905.6L664.4,905.6 663.7,905.5 662.4,905.3 660.0,905.0 658.3,904.8 656.4,904.5 654.3,904.2 651.9,903.8 649.3,903.5 646.4,903.1 643.3,902.8 640.0,902.5 638.0,902.3 635.8,902.2 633.6,902.0 631.2,901.9 628.8,901.7 626.3,901.6 623.8,901.4 621.1,901.3 618.5,901.1 615.8,901.0 613.0,900.8 610.3,900.7 607.5,900.5 604.7,900.3 602.4,900.1 600.0,900.0 597.6,899.8 595.1,899.7 592.6,899.5 590.0,899.4 587.5,899.2 584.9,899.0 582.3,898.8 579.7,898.7 577.1,898.5 574.6,898.3 572.0,898.1 569.5,897.9 567.0,897.7 564.6,897.5 562.2,897.3 559.6,897.1 557.0,896.8 554.6,896.6 552.2,896.3 549.8,896.1 547.4,895.8 545.1,895.5 542.7,895.3 540.4,895.0 537.9,894.7 535.5,894.4 532.9,894.0 530.3,893.7 527.5,893.4 524.7,893.0 522.5,892.7 520.3,892.4 518.1,892.1 515.9,891.8 513.7,891.5 511.4,891.1 509.1,890.8 506.8,890.5 504.5,890.1 502.1,889.8 499.6,889.4 497.1,889.0 494.6,888.7 492.0,888.3 489.3,887.9 486.6,887.6 483.8,887.2 480.9,886.8 477.9,886.5 474.8,886.1 472.7,885.9 470.5,885.6 468.2,885.4 465.8,885.1 463.4,884.8 461.0,884.6 458.4,884.3 455.9,884.0 453.3,883.8 450.6,883.5 448.0,883.2 445.3,882.9 442.6,882.7 439.8,882.4 437.1,882.1 434.4,881.8 431.7,881.6 429.0,881.3 426.3,881.1 423.7,880.8 421.1,880.6 418.5,880.3 416.0,880.1 413.5,879.8 411.1,879.6 408.7,879.4 406.4,879.2 404.2,879.0 402.1,878.8 400.0,878.6 396.8,878.3 393.8,878.1 391.1,877.9 388.5,877.8 386.1,877.6 383.7,877.5 381.5,877.4 379.4,877.3 377.2,877.2 375.1,877.1 373.0,877.0 370.8,876.9 368.4,876.7 366.0,876.6 363.4,876.3 360.7,876.1 357.7,875.8 354.5,875.4 352.4,875.2 350.3,874.9 348.1,874.6 345.8,874.3 343.4,874.0 341.0,873.7 338.5,873.3 335.9,873.0 333.3,872.6 330.7,872.3 328.0,871.9 325.3,871.5 322.6,871.1 319.9,870.7 317.2,870.3 314.4,869.9 311.7,869.5 309.0,869.1 306.3,868.6 303.6,868.2 301.0,867.8 298.4,867.4 295.8,867.0 293.3,866.6 290.9,866.2 288.5,865.8 286.2,865.4 283.9,865.0 281.8,864.6 279.7,864.2 276.5,863.6 273.5,863.0 270.5,862.5 267.6,861.9 264.8,861.4 262.0,860.8 259.3,860.3 256.8,859.7 254.2,859.2 251.8,858.6 249.4,858.1 247.1,857.5 244.9,856.9 242.8,856.3 240.7,855.7 238.7,855.0 236.7,854.4 234.8,853.7 233.0,853.0 229.8,851.6 226.8,850.1 224.2,848.4 221.8,846.8 219.7,845.1 217.8,843.4 216.0,841.7 214.4,840.1 212.9,838.5 211.5,837.0 209.5,834.5" stroke="#bbbbbb" stroke-width="4.40" fill="none"/>
<path d="M-10,-5 L0,0 L-10,5 C-7,2 -7,-2 -10,-5Z" fill="#bbbbbb" transform="translate(202.9,826.0) rotate(-128.0) scale(1.500)"/>
<text font-size="10.5" fill="#686868" text-anchor="middle" dominant-baseline="central"><textPath href="#e20" startOffset="27.55%">1×1×32×32</textPath></text>
<path id="e21" d="M599.4,911.1L599.2,911.0 599.1,911.0 597.9,910.7 594.6,909.8 593.0,909.4 591.2,908.8 589.1,908.3 586.8,907.6 584.3,906.9 581.7,906.2 579.0,905.4 576.1,904.6 573.3,903.9 570.4,903.1 567.6,902.4 564.7,901.7 562.0,901.0 559.6,900.5 557.2,899.9 554.7,899.4 552.2,898.9 549.6,898.5 547.1,898.0 544.5,897.5 541.9,897.0 539.3,896.5 536.8,896.1 534.2,895.6 531.8,895.1 529.3,894.6 527.0,894.1 524.7,893.6 521.9,892.9 519.3,892.3 516.6,891.6 514.1,891.0 511.6,890.3 509.1,889.6 506.7,888.9 504.3,888.2 501.9,887.5 499.6,886.9 497.2,886.2 494.8,885.5 492.2,884.8 489.7,884.0 487.1,883.3 484.6,882.6 482.1,881.9 479.6,881.1 477.2,880.4 474.7,879.7 472.3,878.9 469.8,878.2 467.4,877.4 464.9,876.6 462.5,875.9 460.0,875.1 457.5,874.4 455.0,873.6 452.5,872.8 450.1,872.0 447.7,871.2 445.4,870.4 443.2,869.5 441.0,868.6 438.4,867.5 435.9,866.3 433.4,865.1 431.0,863.9 428.7,862.6 426.6,861.3 424.5,860.0 422.7,858.7 421.0,857.4 418.8,855.5 417.0,853.6 415.5,851.8 414.3,849.7 413.3,847.5 412.5,845.0 412.1,842.7 411.9,840.1 411.9,837.2 411.9,835.8" stroke="#bbbbbb" stroke-width="4.40" fill="none"/>
<path d="M-10,-5 L0,0 L-10,5 C-7,2 -7,-2 -10,-5Z" fill="#bbbbbb" transform="translate(412.3,825.0) rotate(-88.2) scale(1.500)"/>
<text font-size="10.5" fill="#686868" text-anchor="middle" dominant-baseline="central"><textPath href="#e21" startOffset="50.89%">1×1×32×32</textPath></text>
<path id="e22" d="M769.2,910.8L768.7,910.9 767.6,911.2 768.5,911.0 774.0,909.5 775.4,909.1 777.0,908.7 778.7,908.2 780.6,907.7 782.6,907.2 784.8,906.6 787.0,906.0 789.4,905.4 791.9,904.7 794.4,904.0 797.0,903.3 799.7,902.6 802.4,901.8 805.2,901.1 808.0,900.3 810.8,899.6 813.7,898.8 816.5,898.1 819.3,897.3 822.2,896.6 824.9,895.8 827.7,895.1 830.4,894.4 833.0,893.7 835.5,893.0 838.0,892.4 840.5,891.8 843.0,891.1 845.4,890.5 847.9,889.9 850.3,889.3 852.7,888.7 855.1,888.1 857.4,887.5 859.8,886.9 862.2,886.3 864.6,885.7 866.9,885.1 869.3,884.5 871.7,883.9 874.1,883.3 876.6,882.7 879.0,882.1 881.5,881.5 884.1,880.8 886.6,880.2 889.2,879.5 891.8,878.9 894.5,878.2 897.2,877.5 900.0,876.8 902.2,876.2 904.4,875.7 906.7,875.1 909.0,874.5 911.3,873.9 913.6,873.4 916.0,872.8 918.4,872.2 920.8,871.6 923.2,871.0 925.6,870.4 928.1,869.7 930.5,869.1 933.0,868.5 935.5,867.9 938.0,867.2 940.5,866.6 943.0,866.0 945.5,865.3 948.0,864.7 950.6,864.0 953.1,863.3 955.6,862.7 958.1,862.0 960.6,861.3 963.1,860.7 965.6,860.0 968.1,859.3 970.6,858.6 973.1,857.9 975.6,857.2 978.0,856.5 980.5,855.8 983.0,855.0 985.5,854.3 988.1,853.5 990.7,852.7 993.3,851.9 996.0,851.1 998.7,850.2 1001.4,849.4 1004.1,848.5 1006.8,847.7 1009.5,846.8 1012.2,846.0 1014.8,845.1 1017.5,844.2 1020.2,843.4 1022.8,842.5 1025.4,841.7 1027.9,840.8 1030.4,840.0 1032.9,839.2 1035.4,838.4 1037.7,837.6 1040.1,836.8 1042.3,836.1 1044.5,835.4 1046.6,834.6 1048.7,834.0 1050.6,833.3 1052.5,832.7 1054.3,832.1 1056.0,831.5 1060.5,830.0 1064.4,828.6 1067.9,827.3 1070.9,826.2 1073.5,825.2 1073.5,825.1" stroke="#bbbbbb" stroke-width="4.40" fill="none"/>
<path d="M-10,-5 L0,0 L-10,5 C-7,2 -7,-2 -10,-5Z" fill="#bbbbbb" transform="translate(1083.6,821.2) rotate(-21.5) scale(1.500)"/>
<text font-size="10.5" fill="#686868" text-anchor="middle" dominant-baseline="central"><textPath href="#e22" startOffset="51.35%">1×1×32×32</textPath></text>
<path id="e23" d="M685.0,905.2L685.0,905.2 684.7,905.2 685.8,905.1 690.0,905.0 691.5,905.0 693.2,904.9 695.2,904.9 697.3,904.8 699.6,904.8 702.0,904.7 704.6,904.6 707.3,904.6 710.0,904.5 712.8,904.4 715.7,904.3 718.5,904.2 721.4,904.1 724.2,904.0 727.0,903.9 729.8,903.8 732.4,903.6 735.0,903.5 737.4,903.3 739.8,903.2 742.0,903.0 744.2,902.9 746.3,902.7 748.4,902.6 750.5,902.4 752.6,902.2 754.8,902.0 757.0,901.8 759.3,901.6 761.7,901.3 764.3,901.1 767.0,900.8 770.0,900.5 773.1,900.1 776.4,899.8 780.0,899.4 781.9,899.2 784.0,899.0 786.0,898.7 788.2,898.5 790.4,898.2 792.6,898.0 794.9,897.7 797.3,897.4 799.6,897.1 802.1,896.8 804.6,896.5 807.1,896.2 809.6,895.9 812.2,895.6 814.8,895.3 817.5,895.0 820.1,894.7 822.8,894.3 825.5,894.0 828.2,893.7 830.9,893.4 833.7,893.0 836.4,892.7 839.2,892.4 841.9,892.1 844.7,891.7 847.5,891.4 850.2,891.1 852.9,890.8 855.7,890.5 858.4,890.2 861.1,889.9 863.7,889.6 866.4,889.3 869.0,889.0 871.5,888.7 873.9,888.5 876.4,888.2 878.9,888.0 881.4,887.7 883.9,887.5 886.4,887.2 888.9,887.0 891.4,886.8 893.9,886.5 896.4,886.3 898.9,886.0 901.4,885.8 904.0,885.6 906.5,885.3 909.0,885.1 911.5,884.9 914.1,884.7 916.6,884.4 919.1,884.2 921.7,884.0 924.2,883.7 926.8,883.5 929.3,883.3 931.9,883.0 934.4,882.8 937.0,882.5 939.6,882.3 942.1,882.1 944.7,881.8 947.2,881.6 949.8,881.3 952.4,881.1 955.0,880.8 957.5,880.5 960.1,880.3 962.7,880.0 965.2,879.7 967.7,879.5 970.2,879.2 972.7,878.9 975.3,878.7 977.9,878.4 980.5,878.1 983.2,877.8 985.8,877.5 988.5,877.2 991.2,876.9 993.9,876.6 996.5,876.3 999.2,876.0 1001.9,875.7 1004.6,875.4 1007.3,875.1 1010.0,874.8 1012.6,874.5 1015.3,874.2 1017.9,873.9 1020.5,873.6 1023.1,873.3 1025.7,873.0 1028.3,872.7 1030.8,872.4 1033.3,872.2 1035.7,871.9 1038.2,871.6 1040.6,871.3 1042.9,871.0 1045.2,870.8 1047.5,870.5 1049.7,870.2 1051.9,870.0 1054.0,869.7 1056.1,869.5 1058.1,869.2 1060.0,869.0 1063.6,868.6 1066.9,868.2 1070.0,867.8 1072.9,867.4 1075.6,867.1 1078.2,866.8 1080.6,866.5 1083.0,866.2 1085.2,865.9 1087.4,865.6 1089.6,865.3 1091.7,865.0 1093.9,864.7 1096.1,864.4 1098.4,864.1 1100.9,863.7 1103.4,863.3 1106.1,862.9 1108.9,862.5 1112.0,862.0 1114.1,861.7 1116.3,861.3 1118.6,861.0 1120.8,860.6 1123.2,860.2 1125.5,859.8 1127.9,859.5 1130.4,859.1 1132.8,858.7 1135.3,858.2 1137.8,857.8 1140.3,857.4 1142.9,857.0 1145.5,856.5 1148.1,856.1 1150.7,855.7 1153.3,855.2 1155.9,854.7 1158.5,854.3 1161.1,853.8 1163.8,853.4 1166.4,852.9 1169.0,852.4 1171.6,851.9 1174.2,851.4 1176.8,851.0 1179.4,850.5 1182.0,850.0 1184.5,849.5 1187.0,849.0 1189.5,848.5 1192.1,848.0 1194.7,847.5 1197.3,846.9 1200.0,846.4 1202.7,845.8 1205.4,845.3 1208.1,844.7 1210.9,844.1 1213.6,843.5 1216.4,842.9 1219.1,842.3 1221.8,841.8 1224.6,841.2 1227.2,840.6 1229.9,840.0 1232.6,839.4 1235.2,838.8 1237.7,838.2 1240.3,837.6 1242.7,837.1 1245.2,836.5 1247.5,836.0 1249.8,835.4 1252.0,834.9 1254.2,834.4 1256.3,833.8 1258.3,833.3 1260.2,832.9 1262.0,832.4 1265.9,831.3 1269.5,830.3 1272.8,829.3 1275.8,828.3 1278.5,827.3 1281.0,826.4 1283.0,825.6" stroke="#bbbbbb" stroke-width="4.40" fill="none"/>
<path d="M-10,-5 L0,0 L-10,5 C-7,2 -7,-2 -10,-5Z" fill="#bbbbbb" transform="translate(1293.1,821.6) rotate(-21.5) scale(1.500)"/>
<text font-size="10.5" fill="#686868" text-anchor="middle" dominant-baseline="central"><textPath href="#e23" startOffset="36.87%">1×1×32×32</textPath></text>
<path id="e24" d="M864.8,924.1L865.7,924.2 867.5,924.4 866.7,924.3 859.8,923.6 858.4,923.4 856.8,923.3 855.1,923.1 853.2,922.8 851.3,922.6 849.2,922.3 847.0,922.1 844.7,921.8 842.3,921.5 839.8,921.2 837.3,920.8 834.7,920.5 832.0,920.2 829.2,919.8 826.4,919.5 823.6,919.1 820.7,918.8 817.8,918.4 814.8,918.1 811.9,917.8 808.9,917.5 806.0,917.2 803.0,916.9 800.1,916.6 797.2,916.3 794.3,916.1 791.5,915.8 788.7,915.6 785.9,915.5 783.2,915.3 780.6,915.2 778.1,915.1 775.6,915.0 773.0,915.0 770.4,915.0 767.8,915.0 765.3,915.0 762.9,915.1 760.4,915.2 758.0,915.4 755.6,915.5 753.3,915.7 750.9,915.9 748.6,916.1 746.2,916.3 743.9,916.5 741.5,916.8 739.2,917.0 736.8,917.3 734.4,917.5 732.0,917.8 729.6,918.0 727.1,918.3 724.7,918.5 722.1,918.7 719.6,919.0 716.9,919.2 714.3,919.4 711.5,919.5 708.8,919.7 705.9,919.8 703.0,919.9 700.0,920.0 697.8,920.0 695.6,920.1 693.3,920.1 690.9,920.2 688.5,920.2 686.1,920.2 683.6,920.3 681.1,920.3 678.6,920.3 676.0,920.3 673.4,920.4 670.7,920.4 668.1,920.4 665.4,920.4 662.7,920.4 660.0,920.4 657.3,920.4 654.6,920.4 651.8,920.4 649.1,920.4 646.4,920.3 643.6,920.3 640.9,920.3 638.2,920.3 635.5,920.2 632.8,920.2 630.1,920.2 627.4,920.1 624.8,920.1 622.2,920.0 619.6,919.9 617.0,919.9 614.5,919.8 612.0,919.7 609.6,919.6 607.2,919.5 604.8,919.5 602.5,919.4 600.3,919.2 598.0,919.1 595.9,919.0 593.8,918.9 590.6,918.7 587.5,918.5 584.5,918.2 581.5,917.9 578.6,917.6 575.8,917.3 573.0,917.0 570.3,916.7 567.6,916.3 565.0,916.0 562.4,915.6 559.9,915.2 557.5,914.8 555.0,914.4 552.7,914.0 550.3,913.6 548.0,913.2 545.8,912.8 543.6,912.4 541.4,912.0 539.2,911.6 537.1,911.3 535.0,910.9 532.9,910.5 530.8,910.2 528.8,909.8 526.8,909.5 523.7,909.0 521.0,908.5 518.7,908.0 516.8,907.6 515.0,907.2 513.4,906.7 511.8,906.3 510.1,905.9 508.4,905.5 506.4,905.0 504.2,904.5 501.5,904.0 498.4,903.5 494.8,902.9 490.5,902.3 485.5,901.6 483.8,901.4 482.0,901.2 480.2,900.9 478.3,900.7 476.3,900.5 474.2,900.2 472.1,900.0 469.9,899.7 467.7,899.5 465.4,899.2 463.0,899.0 460.6,898.7 458.2,898.5 455.7,898.2 453.2,897.9 450.6,897.7 448.0,897.4 445.3,897.1 442.6,896.8 439.9,896.6 437.2,896.3 434.5,896.0 431.7,895.7 428.9,895.4 426.1,895.1 423.3,894.8 420.4,894.5 417.6,894.2 414.8,893.9 411.9,893.6 409.1,893.3 406.2,893.0 403.4,892.7 400.6,892.4 397.8,892.1 395.0,891.8 392.2,891.5 389.4,891.2 386.7,890.9 384.0,890.5 381.3,890.2 378.7,889.9 376.1,889.6 373.5,889.3 370.9,889.0 368.5,888.6 366.0,888.3 363.6,888.0 361.2,887.7 358.9,887.3 356.7,887.0 354.5,886.7 351.6,886.3 348.6,885.8 345.7,885.3 342.8,884.9 340.0,884.4 337.1,883.9 334.3,883.4 331.5,882.9 328.7,882.5 326.0,882.0 323.3,881.5 320.5,880.9 317.9,880.4 315.2,879.9 312.6,879.4 310.0,878.9 307.4,878.4 304.9,877.9 302.4,877.4 299.9,876.8 297.4,876.3 295.0,875.8 292.6,875.3 290.3,874.8 288.0,874.3 285.7,873.8 283.4,873.3 281.2,872.8 279.0,872.3 276.8,871.8 274.7,871.3 272.7,870.8 270.6,870.3 268.6,869.8 266.6,869.4 264.7,868.9 262.8,868.4 261.0,868.0 257.3,867.1 253.7,866.2 250.3,865.3 247.1,864.4 244.1,863.6 241.2,862.7 238.5,861.9 235.9,861.1 233.4,860.3 231.1,859.5 228.9,858.7 226.8,857.9 224.8,857.1 222.9,856.3 221.0,855.5 219.3,854.6 217.6,853.8 216.0,853.0 212.5,850.8 209.8,848.7 207.9,846.5 206.6,844.3 205.6,842.2 204.8,840.1 204.0,838.0 203.2,835.3" stroke="#bbbbbb" stroke-width="4.40" fill="none"/>
<path d="M-10,-5 L0,0 L-10,5 C-7,2 -7,-2 -10,-5Z" fill="#bbbbbb" transform="translate(200.3,824.9) rotate(-105.7) scale(1.500)"/>
<text font-size="10.5" fill="#686868" text-anchor="middle" dominant-baseline="central"><textPath href="#e24" startOffset="70.29%">1×1×32×32</textPath></text>
<path id="e25" d="M359.3,905.8L359.4,905.9 359.8,906.0 358.8,905.7 354.5,904.4 353.0,904.0 351.2,903.4 349.2,902.9 346.9,902.2 344.5,901.5 341.9,900.8 339.2,900.1 336.4,899.3 333.5,898.4 330.6,897.6 327.6,896.8 324.8,895.9 321.9,895.1 319.2,894.2 316.5,893.4 314.1,892.6 311.7,891.8 309.7,891.1 307.8,890.4 304.1,888.9 300.9,887.4 298.3,885.9 296.1,884.5 294.1,883.2 292.4,881.8 290.7,880.4 289.0,879.0 286.2,876.7 283.6,874.5 281.5,872.2 280.0,869.9 279.5,867.5 279.8,865.5 280.6,863.4 281.9,861.2 283.8,859.1 286.1,857.0 289.0,855.0 290.7,854.0 292.5,853.0 294.5,852.1 296.6,851.1 298.9,850.2 301.2,849.2 303.7,848.3 306.3,847.3 308.9,846.4 311.6,845.5 314.3,844.5 317.0,843.6 319.2,842.8 321.5,842.1 323.9,841.3 326.4,840.6 328.9,839.8 331.5,839.1 334.0,838.3 336.6,837.6 339.3,836.8 341.9,836.1 344.5,835.4 347.0,834.6 349.6,833.9 352.1,833.1 354.5,832.4 357.1,831.6 359.9,830.7 362.7,829.8 365.6,828.9 368.5,828.0 371.3,827.1 374.1,826.2 376.8,825.4 378.7,824.8" stroke="#bbbbbb" stroke-width="4.40" fill="none"/>
<path d="M-10,-5 L0,0 L-10,5 C-7,2 -7,-2 -10,-5Z" fill="#bbbbbb" transform="translate(389.0,821.5) rotate(-17.7) scale(1.500)"/>
<text font-size="10.5" fill="#686868" text-anchor="middle" dominant-baseline="central"><textPath href="#e25" startOffset="50.93%">1×1×32×32</textPath></text>
<path id="e26" d="M864.7,909.4L865.0,909.5 865.6,909.6 864.5,909.4 859.8,908.5 858.4,908.2 856.9,908.0 855.4,907.7 853.7,907.4 852.0,907.2 850.2,906.9 848.3,906.5 846.3,906.2 844.2,905.8 841.9,905.5 839.5,905.0 837.0,904.6 834.3,904.1 831.5,903.6 828.5,903.0 825.4,902.4 822.0,901.8 818.5,901.0 814.8,900.3 810.9,899.5 806.8,898.6 805.0,898.2 803.2,897.8 801.4,897.4 799.5,897.0 797.6,896.6 795.7,896.2 793.8,895.7 791.8,895.3 789.8,894.8 787.8,894.4 785.7,893.9 783.7,893.4 781.6,892.9 779.4,892.5 777.3,892.0 775.1,891.5 772.9,890.9 770.6,890.4 768.4,889.9 766.1,889.4 763.7,888.8 761.4,888.3 759.0,887.7 756.6,887.2 754.1,886.6 751.6,886.0 749.1,885.4 746.6,884.8 744.0,884.3 741.4,883.7 738.8,883.0 736.1,882.4 733.4,881.8 730.7,881.2 727.9,880.6 725.2,879.9 722.3,879.3 719.5,878.6 716.6,878.0 713.7,877.3 710.7,876.7 707.8,876.0 704.7,875.3 701.7,874.7 698.6,874.0 695.5,873.3 692.3,872.6 689.2,871.9 686.0,871.2 682.7,870.5 680.7,870.1 678.6,869.6 676.5,869.2 674.4,868.7 672.2,868.2 669.9,867.8 667.7,867.3 665.4,866.8 663.0,866.3 660.6,865.8 658.2,865.3 655.8,864.7 653.3,864.2 650.8,863.7 648.3,863.2 645.7,862.6 643.1,862.1 640.5,861.5 637.8,861.0 635.2,860.4 632.5,859.8 629.8,859.3 627.1,858.7 624.3,858.1 621.6,857.5 618.8,857.0 616.0,856.4 613.2,855.8 610.4,855.2 607.6,854.6 604.8,854.0 601.9,853.4 599.1,852.8 596.3,852.2 593.4,851.6 590.6,851.0 587.7,850.5 584.9,849.9 582.0,849.3 579.2,848.7 576.3,848.1 573.5,847.5 570.7,846.9 567.9,846.3 565.1,845.7 562.3,845.2 559.5,844.6 556.7,844.0 554.0,843.4 551.2,842.9 548.5,842.3 545.8,841.7 543.1,841.2 540.5,840.6 537.8,840.1 535.2,839.5 532.6,839.0 530.1,838.5 527.6,837.9 525.1,837.4 522.6,836.9 520.1,836.4 517.7,835.9 515.4,835.4 513.0,834.9 510.7,834.4 508.5,834.0 506.2,833.5 504.1,833.0 501.9,832.6 499.8,832.1 497.8,831.7 495.8,831.3 493.8,830.9 491.9,830.5 490.0,830.1 488.2,829.7 486.5,829.4 484.8,829.0 483.1,828.7 481.5,828.3 480.0,828.0 473.2,826.6 467.3,825.3 462.2,824.2 457.8,823.3 454.1,822.5 451.0,821.9 448.4,821.3 446.6,820.9" stroke="#bbbbbb" stroke-width="4.40" fill="none"/>
<path d="M-10,-5 L0,0 L-10,5 C-7,2 -7,-2 -10,-5Z" fill="#bbbbbb" transform="translate(436.0,818.6) rotate(-167.8) scale(1.500)"/>
<text font-size="10.5" fill="#686868" text-anchor="middle" dominant-baseline="central"><textPath href="#e26" startOffset="50.76%">1×1×32×32</textPath></text>
<path id="e27" d="M1019.3,905.2L1019.1,905.3 1018.5,905.5 1019.5,905.2 1024.0,903.5 1025.5,903.0 1027.1,902.4 1029.0,901.7 1031.1,900.9 1033.4,900.1 1035.8,899.3 1038.4,898.4 1041.0,897.4 1043.7,896.5 1046.5,895.5 1049.3,894.5 1052.2,893.4 1055.0,892.4 1057.9,891.4 1060.6,890.4 1063.3,889.4 1065.9,888.4 1068.4,887.4 1070.8,886.5 1073.0,885.6 1075.0,884.8 1078.0,883.5 1080.9,882.3 1083.7,881.0 1086.3,879.8 1088.8,878.6 1091.1,877.4 1093.4,876.3 1095.5,875.1 1097.5,874.0 1099.5,872.9 1101.3,871.9 1103.1,870.8 1104.8,869.8 1108.1,867.7 1110.8,865.8 1113.1,864.0 1115.0,862.2 1116.6,860.4 1118.0,858.6 1119.6,855.9 1120.4,853.1 1120.7,850.4 1120.7,847.4 1120.4,844.8 1119.7,842.0 1118.9,839.2 1117.9,836.5 1117.0,834.0 1116.8,833.6" stroke="#bbbbbb" stroke-width="4.40" fill="none"/>
<path d="M-10,-5 L0,0 L-10,5 C-7,2 -7,-2 -10,-5Z" fill="#bbbbbb" transform="translate(1113.1,823.5) rotate(-110.3) scale(1.500)"/>
<text font-size="10.5" fill="#686868" text-anchor="middle" dominant-baseline="central"><textPath href="#e27" startOffset="50.51%">1×1×32×32</textPath></text>
<path id="e28" d="M1035.1,914.8L1034.0,915.0 1031.9,915.4 1032.6,915.2 1040.0,913.8 1041.4,913.5 1042.9,913.2 1044.5,912.9 1046.2,912.6 1048.1,912.2 1050.0,911.8 1052.1,911.4 1054.3,911.0 1056.5,910.6 1058.8,910.1 1061.2,909.7 1063.7,909.2 1066.3,908.7 1068.9,908.2 1071.5,907.7 1074.2,907.1 1077.0,906.6 1079.7,906.1 1082.5,905.5 1085.4,905.0 1088.2,904.4 1091.1,903.8 1093.9,903.3 1096.8,902.7 1099.6,902.2 1102.5,901.6 1105.3,901.1 1108.1,900.5 1110.8,900.0 1113.5,899.4 1116.2,898.9 1118.8,898.4 1121.4,897.9 1123.9,897.4 1126.4,896.9 1128.7,896.5 1131.0,896.0 1133.8,895.5 1136.5,894.9 1139.2,894.4 1141.9,893.9 1144.6,893.4 1147.3,892.9 1150.0,892.3 1152.6,891.9 1155.2,891.4 1157.8,890.9 1160.4,890.4 1163.0,889.9 1165.5,889.4 1168.1,888.9 1170.6,888.5 1173.1,888.0 1175.5,887.5 1178.0,887.0 1180.4,886.5 1182.8,886.0 1185.2,885.6 1187.6,885.1 1190.0,884.6 1192.3,884.1 1194.6,883.6 1196.9,883.1 1199.1,882.6 1201.4,882.1 1203.6,881.5 1205.8,881.0 1208.6,880.3 1211.5,879.6 1214.2,878.9 1217.0,878.1 1219.7,877.4 1222.4,876.7 1225.1,875.9 1227.8,875.2 1230.4,874.4 1232.9,873.6 1235.5,872.9 1237.9,872.1 1240.4,871.4 1242.8,870.6 1245.1,869.8 1247.4,869.1 1249.7,868.3 1251.9,867.6 1254.0,866.9 1256.1,866.1 1258.1,865.4 1260.1,864.7 1262.0,864.0 1265.2,862.8 1268.2,861.6 1271.0,860.4 1273.7,859.2 1276.1,858.1 1278.5,856.9 1280.7,855.8 1282.7,854.7 1284.7,853.5 1286.6,852.4 1288.5,851.3 1290.3,850.1 1292.0,849.0 1294.7,847.1 1297.0,845.1 1299.2,843.2 1301.1,841.2 1302.8,839.3 1304.3,837.4 1305.7,835.6 1307.0,834.0 1307.1,833.8" stroke="#bbbbbb" stroke-width="4.40" fill="none"/>
<path d="M-10,-5 L0,0 L-10,5 C-7,2 -7,-2 -10,-5Z" fill="#bbbbbb" transform="translate(1313.8,825.3) rotate(-52.1) scale(1.500)"/>
<text font-size="10.5" fill="#686868" text-anchor="middle" dominant-baseline="central"><textPath href="#e28" startOffset="52.39%">1×1×32×32</textPath></text>
<path id="e29" d="M424.2,1054.4L424.3,1054.4 424.7,1054.6 423.8,1054.1 419.8,1052.0 418.4,1051.3 416.8,1050.4 415.0,1049.5 412.9,1048.5 410.8,1047.5 408.4,1046.3 406.0,1045.1 403.5,1043.8 400.9,1042.5 398.2,1041.2 395.6,1039.8 392.9,1038.4 390.2,1037.0 387.6,1035.6 385.1,1034.2 382.6,1032.8 380.3,1031.3 378.1,1030.0 376.0,1028.6 373.7,1027.0 371.4,1025.3 369.1,1023.5 366.8,1021.7 364.6,1019.8 362.4,1017.9 360.3,1016.1 358.2,1014.2 356.2,1012.3 354.3,1010.5 352.5,1008.7 350.8,1007.0 349.2,1005.4 347.7,1003.8 346.3,1002.3 345.0,1001.0 342.2,997.9 340.1,995.4 338.7,993.3 337.8,991.4 337.5,989.5 337.5,987.4 338.0,985.1 339.1,982.7 340.7,980.4 342.7,978.1 345.0,975.8 347.4,973.7 349.2,972.3 351.2,970.9 353.5,969.6 355.8,968.2 358.2,967.0 360.6,965.7 363.0,964.6 365.3,963.5 367.4,962.5 370.5,961.2 373.3,960.2" stroke="#bbbbbb" stroke-width="8.30" fill="none"/>
<path d="M-10,-5 L0,0 L-10,5 C-7,2 -7,-2 -10,-5Z" fill="#bbbbbb" transform="translate(383.4,956.4) rotate(-20.2) scale(1.500)"/>
<text font-size="10.5" fill="#686868" text-anchor="middle" dominant-baseline="central"><textPath href="#e29" startOffset="52.46%">1×16×32×32</textPath></text>
<path id="e30" d="M448.2,1053.6L447.8,1053.8 447.0,1054.4 447.8,1053.8 452.5,1051.0 453.8,1050.2 455.2,1049.3 456.8,1048.4 458.6,1047.3 460.5,1046.1 462.5,1044.9 464.6,1043.6 466.8,1042.2 469.1,1040.8 471.5,1039.3 473.9,1037.8 476.4,1036.3 478.9,1034.8 481.5,1033.2 484.0,1031.7 486.6,1030.1 489.1,1028.6 491.6,1027.1 494.0,1025.6 496.4,1024.2 498.7,1022.8 500.9,1021.5 503.1,1020.3 505.1,1019.1 507.0,1018.0 509.8,1016.4 512.5,1014.9 515.2,1013.5 517.7,1012.2 520.1,1010.9 522.5,1009.7 524.9,1008.6 527.1,1007.5 529.4,1006.4 531.6,1005.3 533.7,1004.3 535.9,1003.2 538.0,1002.2 540.2,1001.1 542.3,1000.1 544.5,999.0 546.9,997.8 549.2,996.6 551.4,995.5 553.5,994.4 555.6,993.4 557.7,992.4 559.7,991.3 561.8,990.3 564.0,989.2 566.3,988.0 568.7,986.8 571.3,985.6 574.0,984.2 577.0,982.8 579.0,981.9 581.1,980.8 583.4,979.7 585.8,978.6 588.3,977.4 590.9,976.1 593.6,974.9 596.3,973.6 599.1,972.3 601.9,971.0 604.6,969.6 607.4,968.3 610.1,967.1 612.8,965.8 615.4,964.6 617.8,963.4 620.2,962.3 621.2,961.8" stroke="#bbbbbb" stroke-width="8.30" fill="none"/>
<path d="M-10,-5 L0,0 L-10,5 C-7,2 -7,-2 -10,-5Z" fill="#bbbbbb" transform="translate(631.0,957.2) rotate(-25.3) scale(1.500)"/>
<text font-size="10.5" fill="#686868" text-anchor="middle" dominant-baseline="central"><textPath href="#e30" startOffset="48.49%">1×16×32×32</textPath></text>
<path id="e31" d="M454.1,1058.1L454.4,1058.0 454.6,1058.0 455.8,1057.7 459.0,1057.0 460.5,1056.7 462.2,1056.3 464.0,1055.9 466.0,1055.4 468.1,1054.9 470.4,1054.4 472.9,1053.9 475.5,1053.3 478.3,1052.7 481.2,1052.0 484.3,1051.4 487.6,1050.7 491.0,1050.0 492.9,1049.6 495.0,1049.2 497.0,1048.8 499.2,1048.4 501.4,1047.9 503.7,1047.5 506.1,1047.0 508.4,1046.5 510.9,1046.1 513.4,1045.6 515.9,1045.1 518.4,1044.6 521.0,1044.1 523.6,1043.6 526.2,1043.1 528.9,1042.6 531.5,1042.1 534.2,1041.6 536.9,1041.0 539.5,1040.5 542.2,1040.0 544.8,1039.5 547.4,1039.0 550.0,1038.5 552.4,1038.0 554.9,1037.6 557.4,1037.1 560.0,1036.6 562.6,1036.0 565.2,1035.5 567.9,1035.0 570.6,1034.5 573.3,1034.0 576.0,1033.4 578.7,1032.9 581.4,1032.4 584.1,1031.8 586.8,1031.3 589.4,1030.8 592.1,1030.3 594.6,1029.8 597.2,1029.3 599.6,1028.9 602.1,1028.4 604.4,1027.9 606.7,1027.5 608.9,1027.1 611.0,1026.7 613.1,1026.3 615.0,1026.0 618.6,1025.4 621.8,1024.8 624.8,1024.4 627.5,1023.9 630.0,1023.6 632.4,1023.2 634.6,1022.9 636.8,1022.7 638.9,1022.4 641.0,1022.1 643.2,1021.7 645.5,1021.4 648.0,1021.0 650.6,1020.6 653.2,1020.1 655.8,1019.6 658.4,1019.1 661.1,1018.7 663.7,1018.2 666.4,1017.7 669.0,1017.2 671.5,1016.7 674.0,1016.2 676.4,1015.8 678.8,1015.4 681.0,1015.0 684.0,1014.5 686.7,1014.1 689.1,1013.8 691.5,1013.5 693.9,1013.2 696.3,1012.8 698.9,1012.5 701.8,1012.0 705.0,1011.5 707.1,1011.1 709.4,1010.7 711.8,1010.3 714.3,1009.8 716.8,1009.4 719.4,1008.9 722.1,1008.4 724.8,1007.9 727.5,1007.4 730.2,1006.9 732.9,1006.4 735.5,1005.9 738.1,1005.4 740.6,1004.9 743.0,1004.5 745.7,1004.0 748.3,1003.6 750.9,1003.2 753.5,1002.8 756.0,1002.4 758.5,1002.1 761.0,1001.7 763.5,1001.3 765.9,1000.9 768.4,1000.5 770.9,1000.0 773.4,999.5 776.0,999.0 778.4,998.5 780.8,997.9 783.2,997.4 785.6,996.8 787.9,996.2 790.3,995.6 792.8,994.9 795.2,994.3 797.6,993.6 800.0,992.9 802.5,992.2 805.0,991.5 807.5,990.8 810.0,990.0 812.4,989.3 814.7,988.6 817.0,987.8 819.3,987.1 821.6,986.3 824.0,985.6 826.3,984.8 828.7,984.0 831.1,983.1 833.6,982.3 836.1,981.4 838.7,980.4 841.4,979.5 844.1,978.5 847.0,977.4 849.2,976.6 851.5,975.7 853.9,974.8 856.4,973.8 859.1,972.7 861.8,971.7 864.6,970.6 867.3,969.5 870.1,968.3 872.9,967.2 875.7,966.1 878.4,965.0 881.0,964.0 883.6,962.9 886.0,961.9 887.0,961.5" stroke="#bbbbbb" stroke-width="8.30" fill="none"/>
<path d="M-10,-5 L0,0 L-10,5 C-7,2 -7,-2 -10,-5Z" fill="#bbbbbb" transform="translate(897.0,957.5) rotate(-22.0) scale(1.500)"/>
<path id="e32" d="M501.7,1032.1L502.0,1032.2 502.6,1032.4 501.6,1032.1 497.0,1030.5 495.6,1030.0 493.9,1029.5 492.1,1028.9 490.1,1028.2 487.9,1027.5 485.6,1026.7 483.1,1025.9 480.5,1025.1 477.9,1024.2 475.2,1023.3 472.4,1022.4 469.6,1021.4 466.8,1020.5 464.1,1019.5 461.3,1018.6 458.6,1017.7 456.0,1016.7 453.5,1015.8 451.1,1014.9 448.8,1014.0 446.7,1013.2 444.7,1012.4 441.6,1011.1 438.7,1009.8 435.9,1008.4 433.2,1007.1 430.7,1005.8 428.3,1004.6 426.0,1003.3 423.8,1002.0 421.8,1000.8 419.9,999.6 418.1,998.4 416.4,997.2 414.8,996.0 411.8,993.6 409.5,991.2 407.8,988.9 406.5,986.7 405.5,984.6 404.8,982.4 404.4,979.9 404.5,977.4 405.2,974.9 406.1,972.5 407.3,970.0 408.6,967.7 410.4,965.3" stroke="#bbbbbb" stroke-width="2.40" fill="none"/>
<path d="M-10,-5 L0,0 L-10,5 C-7,2 -7,-2 -10,-5Z" fill="#bbbbbb" transform="translate(416.7,956.6) rotate(-54.1) scale(1.500)"/>
<text font-size="10.5" fill="#686868" text-anchor="middle" dominant-baseline="central"><textPath href="#e32" startOffset="52.93%">8 tensors</textPath></text>
<path id="e33" d="M591.9,1034.3L592.0,1033.9 592.2,1033.4 592.6,1032.2 593.4,1029.5 593.8,1027.9 594.2,1025.9 594.7,1023.7 595.1,1021.3 595.7,1018.8 596.3,1016.1 597.2,1013.3 598.2,1010.5 599.5,1007.7 601.0,1005.0 602.2,1003.2 603.6,1001.3 605.1,999.3 606.7,997.3 608.4,995.3 610.2,993.2 612.0,991.2 613.9,989.1 615.9,987.1 617.8,985.1 619.7,983.1 621.6,981.2 623.5,979.4 625.3,977.7 627.0,976.0 629.1,974.0 631.4,972.0 633.7,970.1 636.0,968.2 638.3,966.4 640.5,964.7 642.1,963.5" stroke="#bbbbbb" stroke-width="2.40" fill="none"/>
<path d="M-10,-5 L0,0 L-10,5 C-7,2 -7,-2 -10,-5Z" fill="#bbbbbb" transform="translate(650.8,957.0) rotate(-37.0) scale(1.500)"/>
<text font-size="10.5" fill="#686868" text-anchor="middle" dominant-baseline="central"><textPath href="#e33" startOffset="60.37%">8 tensors</textPath></text>
<path id="e34" d="M667.6,1039.2L667.2,1039.3 666.2,1039.6 667.1,1039.3 672.5,1038.0 673.9,1037.6 675.5,1037.2 677.3,1036.8 679.3,1036.3 681.3,1035.8 683.5,1035.2 685.8,1034.6 688.3,1034.0 690.8,1033.4 693.4,1032.7 696.0,1032.1 698.8,1031.4 701.6,1030.7 704.4,1030.0 707.3,1029.3 710.1,1028.5 713.0,1027.8 715.9,1027.1 718.8,1026.4 721.6,1025.7 724.4,1025.0 727.2,1024.4 729.8,1023.7 732.5,1023.1 735.0,1022.5 737.5,1021.9 740.0,1021.3 742.5,1020.8 745.1,1020.2 747.6,1019.6 750.2,1019.1 752.7,1018.5 755.3,1018.0 757.8,1017.4 760.4,1016.9 762.9,1016.3 765.5,1015.8 768.0,1015.2 770.5,1014.7 773.1,1014.1 775.5,1013.6 778.0,1013.0 780.5,1012.5 782.9,1012.0 785.3,1011.4 787.7,1010.9 790.1,1010.3 792.4,1009.8 794.7,1009.2 797.0,1008.7 799.8,1008.0 802.6,1007.3 805.3,1006.7 808.0,1006.0 810.7,1005.3 813.4,1004.7 816.0,1004.0 818.7,1003.3 821.2,1002.7 823.8,1002.0 826.3,1001.3 828.8,1000.6 831.2,1000.0 833.7,999.3 836.1,998.6 838.4,997.9 840.7,997.2 843.0,996.5 845.3,995.7 847.5,995.0 850.2,994.1 852.9,993.2 855.5,992.2 858.0,991.3 860.5,990.4 862.9,989.4 865.3,988.5 867.6,987.5 869.9,986.5 872.1,985.5 874.3,984.5 876.5,983.5 878.7,982.4 880.8,981.3 882.9,980.2 885.0,979.0 887.4,977.6 889.8,976.0 892.3,974.3 894.8,972.5 897.2,970.7 899.5,968.8 901.8,967.0 904.0,965.2 905.7,963.9" stroke="#bbbbbb" stroke-width="2.40" fill="none"/>
<path d="M-10,-5 L0,0 L-10,5 C-7,2 -7,-2 -10,-5Z" fill="#bbbbbb" transform="translate(914.0,957.0) rotate(-39.6) scale(1.500)"/>
<text font-size="10.5" fill="#686868" text-anchor="middle" dominant-baseline="central"><textPath href="#e34" startOffset="51.75%">8 tensors</textPath></text>
<path id="e35" d="M719.2,1059.3L718.6,1059.0 717.7,1058.7 716.5,1058.2 714.5,1057.5 712.8,1056.8 710.9,1056.0 708.7,1055.1 706.2,1054.2 703.3,1053.1 700.0,1052.0 698.1,1051.4 696.4,1050.8 694.6,1050.3 692.8,1049.7 690.8,1049.2 688.6,1048.5 686.2,1047.8 683.5,1047.0 680.3,1046.2 676.7,1045.1 672.5,1044.0 670.7,1043.5 668.8,1043.0 666.8,1042.4 664.6,1041.8 662.3,1041.2 659.9,1040.6 657.4,1039.9 654.8,1039.2 652.2,1038.5 649.5,1037.8 646.7,1037.1 643.9,1036.3 641.1,1035.6 638.3,1034.8 635.5,1034.0 632.7,1033.3 629.9,1032.5 627.1,1031.8 624.4,1031.1 621.7,1030.4 619.1,1029.7 616.6,1029.0 614.1,1028.3 611.8,1027.7 609.6,1027.1 607.5,1026.5 605.5,1026.0 603.7,1025.5 602.0,1025.0 597.5,1023.7 594.0,1022.7 591.4,1021.8 589.4,1021.2 587.7,1020.6 586.2,1020.0 584.6,1019.5 582.7,1018.9 580.3,1018.2 578.1,1017.6 575.8,1017.0 573.6,1016.5 571.4,1016.0 569.1,1015.5 566.7,1014.9 564.1,1014.3 561.4,1013.6 558.5,1012.9 555.4,1012.0 552.0,1011.0 550.0,1010.4 547.8,1009.8 545.6,1009.1 543.2,1008.4 540.8,1007.7 538.2,1006.9 535.6,1006.2 533.0,1005.4 530.3,1004.6 527.6,1003.7 524.9,1002.9 522.2,1002.0 519.6,1001.2 516.9,1000.3 514.3,999.4 511.8,998.5 509.3,997.6 506.9,996.8 504.6,995.9 502.4,995.0 499.8,993.9 497.2,992.8 494.6,991.6 492.1,990.5 489.6,989.3 487.2,988.1 484.8,986.9 482.5,985.7 480.3,984.5 478.2,983.3 476.1,982.0 474.1,980.8 472.2,979.6 470.4,978.4 468.6,977.2 467.0,976.0 464.4,973.8 462.0,971.4 459.9,969.0 458.1,966.5 457.8,966.1" stroke="#bbbbbb" stroke-width="8.30" fill="none"/>
<path d="M-10,-5 L0,0 L-10,5 C-7,2 -7,-2 -10,-5Z" fill="#bbbbbb" transform="translate(451.4,957.4) rotate(-126.6) scale(1.500)"/>
<text font-size="10.5" fill="#686868" text-anchor="middle" dominant-baseline="central"><textPath href="#e35" startOffset="51.74%">1×16×32×32</textPath></text>
<path id="e36" d="M730.2,1055.9L730.1,1055.8 730.2,1055.9 729.5,1055.0 727.0,1052.0 726.0,1050.8 724.7,1049.3 723.3,1047.6 721.8,1045.7 720.1,1043.7 718.3,1041.6 716.5,1039.4 714.6,1037.1 712.7,1034.8 710.8,1032.5 708.9,1030.2 707.1,1027.9 705.4,1025.7 703.8,1023.7 702.3,1021.8 701.0,1020.0 699.0,1017.2 697.2,1014.6 695.7,1012.1 694.3,1009.8 693.0,1007.6 691.9,1005.4 690.8,1003.2 689.7,1001.0 688.7,998.6 687.7,996.1 686.8,993.6 685.9,991.0 685.1,988.4 684.4,985.9 683.7,983.3 683.2,980.8 682.7,978.4 682.3,976.0 682.0,972.9 681.9,969.8 681.9,967.8" stroke="#bbbbbb" stroke-width="8.30" fill="none"/>
<path d="M-10,-5 L0,0 L-10,5 C-7,2 -7,-2 -10,-5Z" fill="#bbbbbb" transform="translate(682.1,957.0) rotate(-89.0) scale(1.500)"/>
<text font-size="10.5" fill="#686868" text-anchor="middle" dominant-baseline="central"><textPath href="#e36" startOffset="59.21%">1×16×32×32</textPath></text>
<path id="e37" d="M752.7,1055.2L753.1,1055.1 753.4,1055.0 754.6,1054.6 757.5,1053.7 759.1,1053.2 760.8,1052.7 762.8,1052.1 764.9,1051.4 767.2,1050.7 769.7,1050.0 772.4,1049.1 775.3,1048.2 778.3,1047.2 781.6,1046.1 785.0,1045.0 786.9,1044.4 789.0,1043.7 791.1,1042.9 793.4,1042.1 795.8,1041.3 798.2,1040.5 800.7,1039.6 803.3,1038.7 805.9,1037.8 808.5,1036.9 811.1,1036.0 813.7,1035.0 816.3,1034.1 818.9,1033.2 821.4,1032.3 823.9,1031.4 826.3,1030.6 828.7,1029.8 830.9,1029.0 833.0,1028.2 835.0,1027.5 838.0,1026.4 840.8,1025.4 843.4,1024.4 845.8,1023.5 848.2,1022.6 850.4,1021.8 852.6,1021.0 854.7,1020.1 856.9,1019.3 859.0,1018.5 861.3,1017.7 863.6,1016.9 866.0,1016.0 868.4,1015.2 870.8,1014.3 873.3,1013.5 875.9,1012.6 878.5,1011.7 881.1,1010.8 883.7,1010.0 886.3,1009.1 888.8,1008.3 891.2,1007.5 893.6,1006.7 895.9,1005.9 898.0,1005.2 900.0,1004.5 903.2,1003.4 906.1,1002.4 908.7,1001.5 911.1,1000.7 913.4,999.9 915.6,999.1 917.8,998.3 920.0,997.4 922.9,996.2 925.7,994.9 928.4,993.6 930.9,992.3 933.3,991.0 935.6,989.6 938.2,987.8 940.6,985.9 942.8,984.0 944.8,982.1 946.5,980.2 948.2,977.8 949.6,975.5 950.6,973.1 951.3,971.0 951.7,969.1 951.7,967.7" stroke="#bbbbbb" stroke-width="8.30" fill="none"/>
<path d="M-10,-5 L0,0 L-10,5 C-7,2 -7,-2 -10,-5Z" fill="#bbbbbb" transform="translate(952.1,956.9) rotate(-88.1) scale(1.500)"/>
<text font-size="10.5" fill="#686868" text-anchor="middle" dominant-baseline="central"><textPath href="#e37" startOffset="53.84%">1×16×32×32</textPath></text>
<path id="e38" d="M799.7,1058.3L798.9,1058.0 797.7,1057.5 796.3,1057.0 795.0,1056.5 794.4,1056.0 794.2,1055.5 793.1,1055.0 789.7,1054.5 788.0,1054.4 785.9,1054.3 783.6,1054.2 781.0,1054.1 778.2,1054.0 775.3,1053.9 772.3,1053.8 769.3,1053.7 766.3,1053.6 763.4,1053.4 760.6,1053.3 758.0,1053.2 755.6,1053.0 752.4,1052.7 749.4,1052.5 746.5,1052.2 743.7,1051.9 741.0,1051.6 738.5,1051.2 736.1,1050.8 733.7,1050.4 731.5,1050.0 728.8,1049.3 726.9,1048.6 725.2,1047.9 723.3,1047.0 720.6,1046.1 716.5,1045.0 714.6,1044.6 712.5,1044.1 710.1,1043.6 707.5,1043.1 704.7,1042.6 701.8,1042.1 698.8,1041.5 695.8,1041.0 692.8,1040.4 689.8,1039.8 686.8,1039.2 684.0,1038.7 681.3,1038.1 678.7,1037.6 676.4,1037.0 674.3,1036.5 672.5,1036.0 668.3,1034.4 666.2,1032.9 665.0,1031.4 663.5,1029.9 660.6,1028.2 658.7,1027.4 656.5,1026.5 654.2,1025.6 651.8,1024.6 649.2,1023.7 646.5,1022.7 643.7,1021.7 640.9,1020.7 638.2,1019.8 635.4,1018.8 632.7,1017.8 630.5,1017.0 628.3,1016.2 626.2,1015.4 624.1,1014.6 622.0,1013.8 619.8,1013.0 617.6,1012.2 615.3,1011.4 613.0,1010.5 610.5,1009.7 607.8,1008.8 605.0,1007.9 602.0,1007.0 599.9,1006.4 597.8,1005.8 595.5,1005.2 593.2,1004.5 590.9,1003.9 588.4,1003.3 585.9,1002.7 583.4,1002.0 580.8,1001.4 578.2,1000.7 575.6,1000.0 572.9,999.4 570.3,998.7 567.6,998.0 565.0,997.3 562.3,996.5 559.7,995.8 557.1,995.0 554.5,994.3 552.0,993.5 549.6,992.7 547.2,992.0 544.7,991.2 542.2,990.4 539.7,989.5 537.1,988.7 534.6,987.8 532.0,987.0 529.5,986.1 527.0,985.2 524.5,984.3 522.0,983.5 519.6,982.6 517.2,981.7 514.8,980.8 512.5,979.9 510.3,979.0 508.1,978.1 506.0,977.2 503.9,976.4 502.0,975.5 499.0,974.1 496.0,972.6 493.2,971.0 490.4,969.4 487.8,967.8 485.3,966.2 482.9,964.6 481.3,963.5" stroke="#bbbbbb" stroke-width="8.30" fill="none"/>
<path d="M-10,-5 L0,0 L-10,5 C-7,2 -7,-2 -10,-5Z" fill="#bbbbbb" transform="translate(472.4,957.5) rotate(-146.0) scale(1.500)"/>
<text font-size="10.5" fill="#686868" text-anchor="middle" dominant-baseline="central"><textPath href="#e38" startOffset="51.94%">1×16×32×32</textPath></text>
<path id="e39" d="M806.8,1055.7L803.4,1052.0 724.7,965.5" stroke="#bbbbbb" stroke-width="8.30" fill="none"/>
<path d="M-10,-5 L0,0 L-10,5 C-7,2 -7,-2 -10,-5Z" fill="#bbbbbb" transform="translate(717.4,957.5) rotate(-132.3) scale(1.500)"/>
<text font-size="10.5" fill="#686868" text-anchor="middle" dominant-baseline="central"><textPath href="#e39" startOffset="53.24%">1×16×32×32</textPath></text>
<path id="e40" d="M832.7,1060.1L833.1,1060.0 833.7,1059.8 834.9,1059.5 837.5,1058.8 839.0,1058.3 840.5,1057.7 842.1,1057.1 844.0,1056.5 846.1,1055.7 848.7,1055.0 851.8,1054.2 855.5,1053.3 860.0,1052.5 861.7,1052.2 863.5,1051.9 865.4,1051.6 867.3,1051.4 869.2,1051.1 871.3,1050.8 873.4,1050.6 875.6,1050.3 877.8,1050.0 880.1,1049.7 882.5,1049.4 884.9,1049.1 887.4,1048.8 889.9,1048.5 892.5,1048.2 895.2,1047.9 897.9,1047.5 900.7,1047.1 903.6,1046.8 906.5,1046.4 909.4,1045.9 912.4,1045.5 915.5,1045.0 918.6,1044.5 921.8,1044.0 925.0,1043.5 927.0,1043.2 929.2,1042.8 931.3,1042.4 933.6,1042.0 935.9,1041.6 938.2,1041.2 940.6,1040.7 943.0,1040.3 945.5,1039.8 948.0,1039.4 950.6,1038.9 953.1,1038.4 955.7,1037.9 958.4,1037.4 961.0,1036.9 963.7,1036.4 966.4,1035.9 969.1,1035.4 971.8,1034.9 974.5,1034.3 977.3,1033.8 980.0,1033.3 982.7,1032.8 985.4,1032.2 988.1,1031.7 990.8,1031.2 993.5,1030.7 996.1,1030.2 998.7,1029.7 1001.3,1029.2 1003.9,1028.7 1006.4,1028.2 1008.9,1027.7 1011.4,1027.2 1013.8,1026.8 1016.2,1026.3 1018.5,1025.9 1020.7,1025.5 1023.0,1025.1 1025.1,1024.7 1027.2,1024.3 1029.2,1023.9 1032.5,1023.3 1035.7,1022.7 1038.7,1022.2 1041.7,1021.7 1044.6,1021.2 1047.4,1020.7 1050.2,1020.3 1052.8,1019.8 1055.4,1019.4 1058.0,1019.0 1060.4,1018.6 1062.9,1018.2 1065.2,1017.8 1067.6,1017.4 1069.8,1017.1 1072.1,1016.7 1074.3,1016.3 1076.5,1015.9 1078.7,1015.5 1080.8,1015.1 1083.0,1014.7 1085.1,1014.3 1087.2,1013.9 1089.4,1013.5 1091.5,1013.0 1094.5,1012.3 1097.4,1011.6 1100.4,1010.9 1103.3,1010.2 1106.2,1009.5 1109.0,1008.7 1111.8,1008.0 1114.5,1007.2 1117.2,1006.5 1119.8,1005.7 1122.2,1005.0 1124.6,1004.3 1126.9,1003.6 1129.1,1002.9 1131.2,1002.2 1133.1,1001.6 1134.9,1001.0 1136.5,1000.5 1141.0,998.9 1143.8,997.6 1145.4,996.6 1146.5,995.5 1147.8,994.3 1149.5,992.5 1150.7,990.6 1151.4,988.6 1151.8,986.8 1151.8,985.1 1151.4,983.6 1150.5,982.0 1149.0,980.2 1147.9,978.8 1146.8,977.4 1145.4,975.9 1143.4,974.3 1140.6,972.7 1136.5,970.9 1134.8,970.3 1132.8,969.6 1130.7,968.9 1128.3,968.2 1125.8,967.5 1123.2,966.7 1120.5,966.0 1117.7,965.2 1114.8,964.4 1111.9,963.7 1109.1,962.9 1106.3,962.2 1103.5,961.5 1100.8,960.8 1098.2,960.1 1095.8,959.5 1093.6,958.9 1091.5,958.4 1088.2,957.5 1085.1,956.8 1082.4,956.1 1079.9,955.5 1077.5,955.0 1075.2,954.5 1073.0,954.0 1070.8,953.5 1068.4,953.0 1066.0,952.5 1063.4,951.9 1060.6,951.4 1057.7,950.8 1054.8,950.2 1051.9,949.6 1051.6,949.6" stroke="#bbbbbb" stroke-width="8.30" fill="none"/>
<path d="M-10,-5 L0,0 L-10,5 C-7,2 -7,-2 -10,-5Z" fill="#bbbbbb" transform="translate(1041.0,947.5) rotate(-168.8) scale(1.500)"/>
<text font-size="10.5" fill="#686868" text-anchor="middle" dominant-baseline="central"><textPath href="#e40" startOffset="50.19%">1×16×32×32</textPath></text>
<path id="e41" d="M884.5,1058.7L884.1,1058.6 883.8,1058.6 882.6,1058.4 879.5,1058.0 877.8,1057.8 875.8,1057.5 873.5,1057.2 871.0,1056.9 868.4,1056.6 865.5,1056.2 862.6,1055.8 859.5,1055.4 856.4,1054.9 853.2,1054.5 850.0,1054.0 847.8,1053.7 845.4,1053.3 843.0,1052.9 840.5,1052.6 838.0,1052.2 835.4,1051.8 832.7,1051.4 830.1,1050.9 827.4,1050.5 824.8,1050.1 822.1,1049.6 819.5,1049.2 817.0,1048.8 814.5,1048.3 812.0,1047.9 809.7,1047.4 806.9,1046.8 804.2,1046.3 801.5,1045.7 798.9,1045.1 796.4,1044.5 793.9,1043.8 791.4,1043.2 788.9,1042.6 786.4,1042.0 783.9,1041.3 781.4,1040.7 778.9,1040.1 776.4,1039.5 773.8,1038.9 771.3,1038.3 768.7,1037.7 766.2,1037.0 763.6,1036.4 761.1,1035.8 758.5,1035.2 756.0,1034.5 753.4,1033.9 750.9,1033.3 748.3,1032.7 745.8,1032.2 743.2,1031.6 740.6,1031.1 738.1,1030.5 735.5,1030.0 732.9,1029.5 730.3,1029.0 727.7,1028.5 725.1,1028.0 722.5,1027.6 719.9,1027.1 717.4,1026.6 714.9,1026.1 712.4,1025.5 709.9,1025.0 707.3,1024.4 704.7,1023.8 702.1,1023.2 699.5,1022.6 697.0,1021.9 694.5,1021.3 692.0,1020.7 689.5,1020.0 687.0,1019.4 684.6,1018.7 682.1,1018.1 679.7,1017.4 677.1,1016.7 674.7,1015.9 672.4,1015.2 670.2,1014.5 667.9,1013.7 665.6,1013.0 663.2,1012.2 660.6,1011.4 657.8,1010.7 654.8,1009.9 651.4,1009.1 649.4,1008.7 647.3,1008.2 645.1,1007.8 642.9,1007.4 640.5,1006.9 638.1,1006.5 635.7,1006.1 633.2,1005.7 630.6,1005.2 628.1,1004.8 625.4,1004.3 622.8,1003.9 620.2,1003.4 617.5,1003.0 614.9,1002.5 612.3,1002.0 609.6,1001.5 607.1,1001.0 604.5,1000.5 602.0,1000.0 599.5,999.5 597.0,998.9 594.4,998.4 591.9,997.9 589.3,997.3 586.7,996.8 584.1,996.2 581.6,995.6 579.0,995.1 576.4,994.5 573.9,993.9 571.3,993.3 568.8,992.7 566.3,992.1 563.8,991.4 561.4,990.8 559.0,990.1 556.6,989.4 554.3,988.7 552.0,988.0 549.4,987.1 546.8,986.2 544.2,985.3 541.6,984.3 539.1,983.3 536.7,982.2 534.2,981.2 531.8,980.1 529.4,979.1 527.1,978.0 524.8,976.9 522.6,975.9 520.4,974.9 518.2,973.9 516.1,972.9 514.0,971.9 512.0,971.0 509.2,969.7 506.3,968.4 503.5,967.1 500.7,965.7 498.1,964.4 495.5,963.2 493.7,962.3" stroke="#bbbbbb" stroke-width="8.30" fill="none"/>
<path d="M-10,-5 L0,0 L-10,5 C-7,2 -7,-2 -10,-5Z" fill="#bbbbbb" transform="translate(484.0,957.5) rotate(-153.7) scale(1.500)"/>
<text font-size="10.5" fill="#686868" text-anchor="middle" dominant-baseline="central"><textPath href="#e41" startOffset="51.74%">1×16×32×32</textPath></text>
<path id="e42" d="M881.5,1055.6L881.5,1055.6 881.7,1055.8 880.9,1055.0 878.0,1052.0 876.9,1050.9 875.7,1049.5 874.4,1048.1 873.0,1046.5 871.5,1044.7 869.9,1042.9 868.1,1040.9 866.3,1038.9 864.5,1036.9 862.5,1034.7 860.5,1032.6 858.4,1030.4 856.2,1028.3 854.0,1026.1 851.7,1024.0 849.4,1022.0 847.0,1020.0 845.3,1018.6 843.5,1017.2 841.7,1015.8 839.9,1014.4 838.0,1013.0 836.0,1011.5 834.1,1010.1 832.1,1008.6 830.0,1007.2 827.9,1005.7 825.8,1004.2 823.7,1002.8 821.6,1001.3 819.4,999.9 817.2,998.4 815.0,997.0 812.8,995.6 810.5,994.2 808.3,992.8 806.0,991.4 803.8,990.0 801.5,988.6 799.3,987.3 797.0,986.0 794.8,984.7 792.4,983.4 790.0,982.1 787.5,980.8 784.9,979.5 782.3,978.2 779.6,976.8 776.9,975.5 774.2,974.2 771.4,972.8 768.7,971.5 766.0,970.3 763.3,969.0 760.7,967.8 758.2,966.6 755.7,965.4 753.3,964.3 751.0,963.3 748.8,962.2 748.4,962.1" stroke="#bbbbbb" stroke-width="8.30" fill="none"/>
<path d="M-10,-5 L0,0 L-10,5 C-7,2 -7,-2 -10,-5Z" fill="#bbbbbb" transform="translate(738.6,957.6) rotate(-155.3) scale(1.500)"/>
<text font-size="10.5" fill="#686868" text-anchor="middle" dominant-baseline="central"><textPath href="#e42" startOffset="51.28%">1×16×32×32</textPath></text>
<path id="e43" d="M919.7,1058.0L918.3,1058.3 915.7,1058.8 916.3,1058.6 924.6,1057.0 926.0,1056.7 927.4,1056.4 929.0,1056.1 930.7,1055.8 932.4,1055.4 934.3,1055.1 936.3,1054.7 938.3,1054.2 940.5,1053.8 942.7,1053.4 945.0,1052.9 947.3,1052.4 949.7,1051.9 952.2,1051.4 954.8,1050.9 957.4,1050.4 960.0,1049.9 962.7,1049.3 965.4,1048.8 968.1,1048.2 970.9,1047.7 973.7,1047.1 976.5,1046.5 979.4,1046.0 982.2,1045.4 985.1,1044.8 988.0,1044.3 990.8,1043.7 993.7,1043.1 996.6,1042.6 999.4,1042.0 1002.2,1041.5 1005.0,1040.9 1007.8,1040.4 1010.5,1039.9 1013.2,1039.3 1015.9,1038.8 1018.5,1038.3 1021.0,1037.9 1023.6,1037.4 1026.0,1036.9 1028.4,1036.5 1031.0,1036.0 1033.7,1035.6 1036.3,1035.1 1039.0,1034.6 1041.7,1034.2 1044.3,1033.7 1047.0,1033.3 1049.7,1032.8 1052.4,1032.4 1055.2,1031.9 1057.9,1031.5 1060.6,1031.1 1063.3,1030.7 1066.0,1030.2 1068.6,1029.8 1071.3,1029.4 1074.0,1029.0 1076.6,1028.6 1079.2,1028.1 1081.8,1027.7 1084.4,1027.3 1087.0,1026.9 1089.5,1026.5 1092.0,1026.1 1094.5,1025.7 1096.9,1025.4 1099.3,1025.0 1101.7,1024.6 1104.0,1024.2 1106.3,1023.8 1108.5,1023.4 1110.7,1023.0 1112.8,1022.7 1114.9,1022.3 1116.9,1021.9 1118.9,1021.5 1120.8,1021.2 1122.7,1020.8 1126.5,1020.0 1130.0,1019.3 1133.3,1018.5 1136.4,1017.7 1139.4,1017.0 1142.2,1016.3 1144.8,1015.6 1147.3,1014.9 1149.7,1014.2 1152.0,1013.5 1154.1,1012.8 1156.2,1012.1 1158.2,1011.5 1160.1,1010.8 1162.0,1010.2 1163.9,1009.5 1165.7,1008.9 1167.5,1008.3 1170.9,1007.1 1174.0,1006.0 1176.7,1004.9 1179.1,1003.9 1181.3,1002.9 1183.2,1001.9 1185.0,1000.9 1186.5,999.9 1188.0,998.9 1190.6,996.6 1192.1,994.3 1192.8,992.1 1193.0,989.9 1192.8,987.9 1192.1,986.0 1190.6,984.0 1188.0,981.8 1186.5,980.7 1185.0,979.6 1183.2,978.4 1181.3,977.2 1179.1,976.0 1176.7,974.8 1174.0,973.5 1170.9,972.2 1167.5,970.9 1165.6,970.2 1163.7,969.6 1161.6,968.9 1159.4,968.2 1157.1,967.4 1154.8,966.7 1152.4,966.0 1149.9,965.3 1147.4,964.5 1144.8,963.8 1142.1,963.1 1139.4,962.4 1136.7,961.7 1133.9,961.0 1131.1,960.3 1128.3,959.6 1125.5,959.0 1122.7,958.4 1120.3,957.9 1117.9,957.4 1115.3,957.0 1112.7,956.5 1110.0,956.0 1107.2,955.6 1104.4,955.1 1101.6,954.7 1098.8,954.2 1095.9,953.8 1093.1,953.4 1090.3,952.9 1087.5,952.5 1084.8,952.2 1082.1,951.8 1079.5,951.4 1077.0,951.1 1074.5,950.7 1072.2,950.4 1070.0,950.1 1067.9,949.8 1066.0,949.5 1062.1,948.9 1058.6,948.5 1055.4,948.1 1052.5,947.7 1051.7,947.6" stroke="#bbbbbb" stroke-width="8.30" fill="none"/>
<path d="M-10,-5 L0,0 L-10,5 C-7,2 -7,-2 -10,-5Z" fill="#bbbbbb" transform="translate(1041.0,946.4) rotate(-173.2) scale(1.500)"/>
<text font-size="10.5" fill="#686868" text-anchor="middle" dominant-baseline="central"><textPath href="#e43" startOffset="51.01%">1×16×32×32</textPath></text>
</g>
<text x="902" y="218.8" font-size="26.5" fill="#3c3c3c" text-anchor="middle" textLength="221.6" lengthAdjust="spacingAndGlyphs">LocalMultiScaleSE</text>
<g>
<path d="M148.7,805.0 L169.6,811.0" stroke="#b3b3b3" stroke-width="2.4" fill="none"/>
<path d="M148.7,822.6 L169.6,815.8" stroke="#b3b3b3" stroke-width="2.4" fill="none"/>
<path d="M179.1,813.8 L168.6,806.2 L168.6,821.4 Z" fill="#a9a9a9"/>
<path d="M358.4,805.0 L379.3,811.0" stroke="#b3b3b3" stroke-width="2.4" fill="none"/>
<path d="M358.4,822.6 L379.3,815.8" stroke="#b3b3b3" stroke-width="2.4" fill="none"/>
<path d="M388.8,813.8 L378.3,806.2 L378.3,821.4 Z" fill="#a9a9a9"/>
<path d="M1052.9,805.0 L1073.8,811.0" stroke="#b3b3b3" stroke-width="2.4" fill="none"/>
<path d="M1052.9,822.6 L1073.8,815.8" stroke="#b3b3b3" stroke-width="2.4" fill="none"/>
<path d="M1083.3,813.8 L1072.8,806.2 L1072.8,821.4 Z" fill="#a9a9a9"/>
<path d="M1262.8,805.0 L1283.7,811.0" stroke="#b3b3b3" stroke-width="2.4" fill="none"/>
<path d="M1262.8,822.6 L1283.7,815.8" stroke="#b3b3b3" stroke-width="2.4" fill="none"/>
<path d="M1293.2,813.8 L1282.7,806.2 L1282.7,821.4 Z" fill="#a9a9a9"/>
<path d="M701.6,697.2 L722.5,703.2" stroke="#b3b3b3" stroke-width="2.4" fill="none"/>
<path d="M701.6,714.8 L722.5,708.0" stroke="#b3b3b3" stroke-width="2.4" fill="none"/>
<path d="M732.0,706.0 L721.5,698.4 L721.5,713.6 Z" fill="#a9a9a9"/>
<path d="M812.3,1173.8 L833.2,1179.8" stroke="#b3b3b3" stroke-width="2.4" fill="none"/>
<path d="M812.3,1191.4 L833.2,1184.6" stroke="#b3b3b3" stroke-width="2.4" fill="none"/>
<path d="M842.7,1182.6 L832.2,1175.0 L832.2,1190.2 Z" fill="#a9a9a9"/>
</g>
<g>
<rect x="812.0" y="60.0" width="180.0" height="44.5" rx="14" ry="14" fill="#bcc6e0" stroke="#7b859b" stroke-width="3"/>
<text x="902.0" y="91.6" font-size="26.5" fill="#3c3c3c" text-anchor="middle" textLength="75.8" lengthAdjust="spacingAndGlyphs">output</text>
<rect x="812.0" y="1418.0" width="180.0" height="44.5" rx="14" ry="14" fill="#bcc6e0" stroke="#7b859b" stroke-width="3"/>
<text x="902.0" y="1450.0" font-size="26.5" fill="#3c3c3c" text-anchor="middle" textLength="58.8" lengthAdjust="spacingAndGlyphs">input</text>
<rect x="345.0" y="905.5" width="179.5" height="49.5" rx="14" ry="14" fill="#bbdec8" stroke="#819b8a" stroke-width="3"/>
<text x="434.4" y="938.8" font-size="24.0" fill="#3c3c3c" text-anchor="middle" textLength="138.8" lengthAdjust="spacingAndGlyphs">Sequential[0]</text>
<rect x="594.8" y="905.5" width="179.5" height="49.5" rx="14" ry="14" fill="#eeecab" stroke="#a8a778" stroke-width="3"/>
<text x="684.1" y="938.8" font-size="24.0" fill="#3c3c3c" text-anchor="middle" textLength="138.8" lengthAdjust="spacingAndGlyphs">Sequential[1]</text>
<rect x="860.3" y="905.5" width="179.5" height="49.5" rx="14" ry="14" fill="#bcc6e0" stroke="#7b859b" stroke-width="3"/>
<text x="949.4" y="938.8" font-size="24.0" fill="#3c3c3c" text-anchor="middle" textLength="139.2" lengthAdjust="spacingAndGlyphs">Sequential[2]</text>
<rect x="590.8" y="568.3" width="179.0" height="45.8" rx="14" ry="14" fill="#f0f0f0" stroke="#aaaaaa" stroke-width="3"/>
<text x="679.9" y="599.8" font-size="22.0" fill="#3c3c3c" text-anchor="middle" textLength="152.7" lengthAdjust="spacingAndGlyphs">Conv2d[fusion]</text>
<rect x="492.0" y="1030.8" width="179.3" height="60.0" rx="14" ry="14" fill="#f0f0f0" stroke="#aaaaaa" stroke-width="3"/>
<text x="581.5" y="1066.0" font-size="18.6" fill="#3c3c3c" text-anchor="middle" textLength="152.0" lengthAdjust="spacingAndGlyphs">ModuleList[conv…</text>
<ellipse cx="1106.0" cy="391.6" rx="22.2" ry="8.8" fill="#ffffff" stroke="#b3b3b3" stroke-width="2.6"/>
<text x="1106.0" y="373.5" font-size="16.5" fill="#3c3c3c" text-anchor="middle" textLength="29.3" lengthAdjust="spacingAndGlyphs">339</text>
<ellipse cx="671.0" cy="484.0" rx="22.2" ry="8.8" fill="#ffffff" stroke="#b3b3b3" stroke-width="2.6"/>
<text x="671.0" y="466.8" font-size="16.5" fill="#3c3c3c" text-anchor="middle" textLength="61.1" lengthAdjust="spacingAndGlyphs">weights</text>
<ellipse cx="755.3" cy="706.0" rx="22.2" ry="8.8" fill="#ffffff" stroke="#b3b3b3" stroke-width="2.6"/>
<text x="755.0" y="687.6" font-size="16.5" fill="#3c3c3c" text-anchor="middle" textLength="39.3" lengthAdjust="spacingAndGlyphs">input</text>
<ellipse cx="202.4" cy="813.8" rx="22.2" ry="8.8" fill="#ffffff" stroke="#b3b3b3" stroke-width="2.6"/>
<text x="202.4" y="795.5" font-size="16.5" fill="#3c3c3c" text-anchor="middle" textLength="28.8" lengthAdjust="spacingAndGlyphs">126</text>
<ellipse cx="412.1" cy="813.8" rx="22.2" ry="8.8" fill="#ffffff" stroke="#b3b3b3" stroke-width="2.6"/>
<text x="412.5" y="795.5" font-size="16.5" fill="#3c3c3c" text-anchor="middle" textLength="29.0" lengthAdjust="spacingAndGlyphs">189</text>
<ellipse cx="1106.6" cy="813.8" rx="22.2" ry="8.8" fill="#ffffff" stroke="#b3b3b3" stroke-width="2.6"/>
<text x="1106.6" y="795.5" font-size="16.5" fill="#3c3c3c" text-anchor="middle" textLength="29.8" lengthAdjust="spacingAndGlyphs">252</text>
<ellipse cx="1316.5" cy="813.8" rx="22.2" ry="8.8" fill="#ffffff" stroke="#b3b3b3" stroke-width="2.6"/>
<text x="1316.5" y="795.5" font-size="16.5" fill="#3c3c3c" text-anchor="middle" textLength="29.8" lengthAdjust="spacingAndGlyphs">315</text>
<ellipse cx="436.0" cy="1061.2" rx="22.2" ry="8.8" fill="#ffffff" stroke="#b3b3b3" stroke-width="2.6"/>
<text x="436.0" y="1043.0" font-size="16.5" fill="#3c3c3c" text-anchor="middle" textLength="53.3" lengthAdjust="spacingAndGlyphs">input.1</text>
<ellipse cx="736.0" cy="1061.2" rx="22.2" ry="8.8" fill="#ffffff" stroke="#b3b3b3" stroke-width="2.6"/>
<text x="736.0" y="1043.0" font-size="16.5" fill="#3c3c3c" text-anchor="middle" textLength="54.3" lengthAdjust="spacingAndGlyphs">input.9</text>
<ellipse cx="814.4" cy="1061.2" rx="22.2" ry="8.8" fill="#ffffff" stroke="#b3b3b3" stroke-width="2.6"/>
<text x="814.4" y="1043.0" font-size="16.5" fill="#3c3c3c" text-anchor="middle" textLength="63.8" lengthAdjust="spacingAndGlyphs">input.17</text>
<ellipse cx="901.6" cy="1061.2" rx="22.2" ry="8.8" fill="#ffffff" stroke="#b3b3b3" stroke-width="2.6"/>
<text x="901.6" y="1043.0" font-size="16.5" fill="#3c3c3c" text-anchor="middle" textLength="64.5" lengthAdjust="spacingAndGlyphs">input.25</text>
<ellipse cx="866.0" cy="1182.6" rx="22.2" ry="8.8" fill="#ffffff" stroke="#b3b3b3" stroke-width="2.6"/>
<text x="866.0" y="1163.8" font-size="16.5" fill="#3c3c3c" text-anchor="middle" textLength="18.8" lengthAdjust="spacingAndGlyphs">59</text>
<circle cx="143.7" cy="803.4" r="5.8" fill="#ffffff" stroke="#b3b3b3" stroke-width="2.8"/>
<text x="131.4" y="808.4" font-size="14.3" fill="#000000" text-anchor="end" textLength="24.3" lengthAdjust="spacingAndGlyphs">124</text>
<circle cx="143.7" cy="824.2" r="5.8" fill="#ffffff" stroke="#b3b3b3" stroke-width="2.8"/>
<text x="131.4" y="829.2" font-size="14.3" fill="#000000" text-anchor="end" textLength="24.3" lengthAdjust="spacingAndGlyphs">125</text>
<circle cx="353.4" cy="803.4" r="5.8" fill="#ffffff" stroke="#b3b3b3" stroke-width="2.8"/>
<text x="341.1" y="808.4" font-size="14.3" fill="#000000" text-anchor="end" textLength="24.3" lengthAdjust="spacingAndGlyphs">187</text>
<circle cx="353.4" cy="824.2" r="5.8" fill="#ffffff" stroke="#b3b3b3" stroke-width="2.8"/>
<text x="341.1" y="829.2" font-size="14.3" fill="#000000" text-anchor="end" textLength="24.3" lengthAdjust="spacingAndGlyphs">188</text>
<circle cx="1047.9" cy="803.4" r="5.8" fill="#ffffff" stroke="#b3b3b3" stroke-width="2.8"/>
<text x="1035.6" y="808.4" font-size="14.3" fill="#000000" text-anchor="end" textLength="24.3" lengthAdjust="spacingAndGlyphs">250</text>
<circle cx="1047.9" cy="824.2" r="5.8" fill="#ffffff" stroke="#b3b3b3" stroke-width="2.8"/>
<text x="1035.6" y="829.2" font-size="14.3" fill="#000000" text-anchor="end" textLength="24.3" lengthAdjust="spacingAndGlyphs">251</text>
<circle cx="1257.8" cy="803.4" r="5.8" fill="#ffffff" stroke="#b3b3b3" stroke-width="2.8"/>
<text x="1245.5" y="808.4" font-size="14.3" fill="#000000" text-anchor="end" textLength="24.3" lengthAdjust="spacingAndGlyphs">313</text>
<circle cx="1257.8" cy="824.2" r="5.8" fill="#ffffff" stroke="#b3b3b3" stroke-width="2.8"/>
<text x="1245.5" y="829.2" font-size="14.3" fill="#000000" text-anchor="end" textLength="24.3" lengthAdjust="spacingAndGlyphs">314</text>
<circle cx="696.6" cy="695.6" r="5.8" fill="#ffffff" stroke="#b3b3b3" stroke-width="2.8"/>
<text x="684.3" y="700.6" font-size="14.3" fill="#000000" text-anchor="end" textLength="24.3" lengthAdjust="spacingAndGlyphs">316</text>
<circle cx="696.6" cy="716.4" r="5.8" fill="#ffffff" stroke="#b3b3b3" stroke-width="2.8"/>
<text x="684.3" y="721.4" font-size="14.3" fill="#000000" text-anchor="end" textLength="24.3" lengthAdjust="spacingAndGlyphs">317</text>
<circle cx="807.3" cy="1172.2" r="5.8" fill="#ffffff" stroke="#b3b3b3" stroke-width="2.8"/>
<text x="795.0" y="1177.2" font-size="14.3" fill="#000000" text-anchor="end" textLength="15.2" lengthAdjust="spacingAndGlyphs">57</text>
<circle cx="807.3" cy="1193.0" r="5.8" fill="#ffffff" stroke="#b3b3b3" stroke-width="2.8"/>
<text x="795.0" y="1198.0" font-size="14.3" fill="#000000" text-anchor="end" textLength="15.2" lengthAdjust="spacingAndGlyphs">58</text>
</g>
</svg>
</body></html>
